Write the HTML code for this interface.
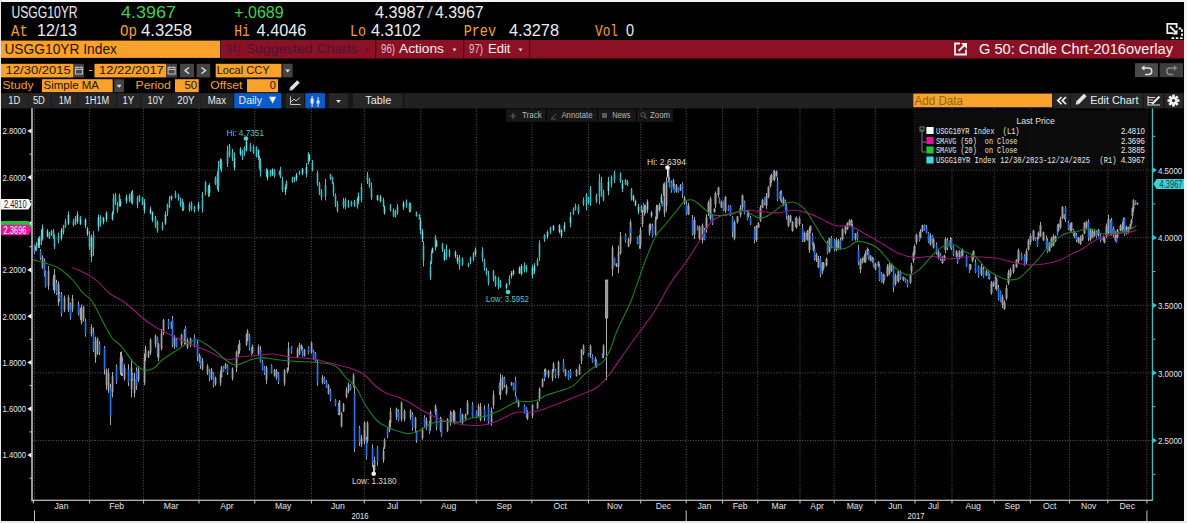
<!DOCTYPE html>
<html><head><meta charset="utf-8"><style>
html,body{margin:0;padding:0;background:#000;width:1187px;height:523px;overflow:hidden}
svg{display:block}
</style></head><body>
<svg width="1187" height="523" viewBox="0 0 1187 523" shape-rendering="auto">
<rect x="0" y="0" width="1187.00" height="523.00" fill="#000" />
<rect x="0" y="0" width="1187.00" height="2.00" fill="#f4f4f4" />
<rect x="0" y="0" width="1.00" height="523.00" fill="#e8e8e8" />
<rect x="1184" y="0" width="3.00" height="523.00" fill="#f4f4f4" />
<rect x="0" y="521" width="1187.00" height="2.00" fill="#e8e8e8" />
<text x="11.40" y="17.70" font-family='"Liberation Sans", sans-serif' font-weight="normal" font-size="16.57" fill="#ececec" textLength="66.12" lengthAdjust="spacingAndGlyphs" style="white-space:pre">USGG10YR</text>
<text x="121.00" y="17.70" font-family='"Liberation Sans", sans-serif' font-weight="normal" font-size="16.57" fill="#3fd24a" textLength="54.98" lengthAdjust="spacingAndGlyphs" style="white-space:pre">4.3967</text>
<text x="234.30" y="17.70" font-family='"Liberation Sans", sans-serif' font-weight="normal" font-size="16.57" fill="#3fd24a" textLength="49.32" lengthAdjust="spacingAndGlyphs" style="white-space:pre">+.0689</text>
<text x="375.00" y="17.70" font-family='"Liberation Sans", sans-serif' font-weight="normal" font-size="16.57" fill="#ececec" textLength="49.48" lengthAdjust="spacingAndGlyphs" style="white-space:pre">4.3987</text>
<text x="427.00" y="17.70" font-family='"Liberation Sans", sans-serif' font-weight="normal" font-size="16.57" fill="#9a9a9a" textLength="5.95" lengthAdjust="spacingAndGlyphs" style="white-space:pre">/</text>
<text x="435.00" y="17.70" font-family='"Liberation Sans", sans-serif' font-weight="normal" font-size="16.57" fill="#ececec" textLength="48.58" lengthAdjust="spacingAndGlyphs" style="white-space:pre">4.3967</text>
<text x="11.00" y="36.20" font-family='"Liberation Mono", monospace' font-weight="normal" font-size="16.67" fill="#f6a02c" textLength="16.80" lengthAdjust="spacingAndGlyphs" style="white-space:pre">At</text>
<text x="37.00" y="36.20" font-family='"Liberation Sans", sans-serif' font-weight="normal" font-size="15.99" fill="#ececec" textLength="39.96" lengthAdjust="spacingAndGlyphs" style="white-space:pre">12/13</text>
<text x="120.00" y="36.20" font-family='"Liberation Mono", monospace' font-weight="normal" font-size="16.67" fill="#f6a02c" textLength="17.00" lengthAdjust="spacingAndGlyphs" style="white-space:pre">Op</text>
<text x="141.00" y="36.20" font-family='"Liberation Sans", sans-serif' font-weight="normal" font-size="15.99" fill="#ececec" textLength="50.98" lengthAdjust="spacingAndGlyphs" style="white-space:pre">4.3258</text>
<text x="234.30" y="36.20" font-family='"Liberation Mono", monospace' font-weight="normal" font-size="16.67" fill="#f6a02c" textLength="15.60" lengthAdjust="spacingAndGlyphs" style="white-space:pre">Hi</text>
<text x="256.60" y="36.20" font-family='"Liberation Sans", sans-serif' font-weight="normal" font-size="15.99" fill="#ececec" textLength="49.78" lengthAdjust="spacingAndGlyphs" style="white-space:pre">4.4046</text>
<text x="350.00" y="36.20" font-family='"Liberation Mono", monospace' font-weight="normal" font-size="16.67" fill="#f6a02c" textLength="16.00" lengthAdjust="spacingAndGlyphs" style="white-space:pre">Lo</text>
<text x="371.00" y="36.20" font-family='"Liberation Sans", sans-serif' font-weight="normal" font-size="15.99" fill="#ececec" textLength="49.68" lengthAdjust="spacingAndGlyphs" style="white-space:pre">4.3102</text>
<text x="463.70" y="36.20" font-family='"Liberation Mono", monospace' font-weight="normal" font-size="16.67" fill="#f6a02c" textLength="32.30" lengthAdjust="spacingAndGlyphs" style="white-space:pre">Prev</text>
<text x="509.00" y="36.20" font-family='"Liberation Sans", sans-serif' font-weight="normal" font-size="15.99" fill="#ececec" textLength="49.98" lengthAdjust="spacingAndGlyphs" style="white-space:pre">4.3278</text>
<text x="595.00" y="36.20" font-family='"Liberation Mono", monospace' font-weight="normal" font-size="16.67" fill="#f6a02c" textLength="23.00" lengthAdjust="spacingAndGlyphs" style="white-space:pre">Vol</text>
<text x="626.00" y="36.20" font-family='"Liberation Sans", sans-serif' font-weight="normal" font-size="15.99" fill="#ececec" textLength="8.02" lengthAdjust="spacingAndGlyphs" style="white-space:pre">0</text>
<g fill="none" stroke="#f0f0f0" stroke-width="1.8"><path d="M1173.5 33.2 H1167.3 V23.8 H1176.6 V28"/><path d="M1170 26.5 L1176 32.5"/><path d="M1171.5 38.2 H1182 V28.5 H1178" stroke-dasharray="2.6 1.6"/></g><path d="M1177.5 29.5 L1177.5 34.5 L1172.5 34.5 Z" fill="#f0f0f0"/>
<rect x="1" y="40.6" width="219.20" height="17.30" fill="#f9a12a" />
<text x="4.40" y="54.30" font-family='"Liberation Sans", sans-serif' font-weight="normal" font-size="15.55" fill="#241500" textLength="112.61" lengthAdjust="spacingAndGlyphs" style="white-space:pre">USGG10YR Index</text>
<rect x="220.9" y="40" width="963.10" height="18.50" fill="#8c1124" />
<rect x="375" y="40" width="1.20" height="18.80" fill="#3a0810" />
<rect x="463" y="40" width="1.20" height="18.80" fill="#3a0810" />
<rect x="529" y="40" width="1.20" height="18.80" fill="#3a0810" />
<text x="226.50" y="53.00" font-family='"Liberation Sans", sans-serif' font-weight="normal" font-size="13.52" fill="#4a1535" textLength="13.50" lengthAdjust="spacingAndGlyphs" style="white-space:pre">94)</text>
<text x="245.80" y="53.00" font-family='"Liberation Sans", sans-serif' font-weight="normal" font-size="13.52" fill="#4a1535" textLength="111.70" lengthAdjust="spacingAndGlyphs" style="white-space:pre">Suggested Charts</text>
<path d="M365 48.5 h4 l-2 3 z" fill="#4a1535"/>
<text x="381.00" y="53.00" font-family='"Liberation Sans", sans-serif' font-weight="normal" font-size="13.52" fill="#d8c0c8" textLength="14.00" lengthAdjust="spacingAndGlyphs" style="white-space:pre">96)</text>
<text x="399.00" y="53.00" font-family='"Liberation Sans", sans-serif' font-weight="normal" font-size="13.52" fill="#f4f4f4" textLength="44.99" lengthAdjust="spacingAndGlyphs" style="white-space:pre">Actions</text>
<path d="M452.5 48.5 h4 l-2 3 z" fill="#e0e0e0"/>
<text x="469.00" y="53.00" font-family='"Liberation Sans", sans-serif' font-weight="normal" font-size="13.52" fill="#d8c0c8" textLength="14.00" lengthAdjust="spacingAndGlyphs" style="white-space:pre">97)</text>
<text x="488.00" y="53.00" font-family='"Liberation Sans", sans-serif' font-weight="normal" font-size="13.52" fill="#f4f4f4" textLength="22.48" lengthAdjust="spacingAndGlyphs" style="white-space:pre">Edit</text>
<path d="M518.5 48.5 h4 l-2 3 z" fill="#e0e0e0"/>
<g fill="none" stroke="#f4f4f4" stroke-width="1.8"><path d="M960 43.5 H955 V54.5 H966 V49.5"/><path d="M958.5 51 L965.5 44"/></g><path d="M961 43 H967 V49 Z" fill="#f4f4f4"/>
<text x="979.00" y="53.70" font-family='"Liberation Sans", sans-serif' font-weight="normal" font-size="14.10" fill="#f4f4f4" textLength="194.00" lengthAdjust="spacingAndGlyphs" style="white-space:pre">G 50: Cndle Chrt-2016overlay</text>
<rect x="1" y="63.8" width="72.50" height="13.60" fill="#f9a12a" />
<text x="5.60" y="74.40" font-family='"Liberation Sans", sans-serif' font-weight="normal" font-size="11.77" fill="#241500" textLength="65.20" lengthAdjust="spacingAndGlyphs" style="white-space:pre">12/30/2015</text>
<rect x="73.8" y="63.8" width="10.20" height="13.60" fill="#454545" />
<rect x="94.5" y="63.8" width="71.80" height="13.60" fill="#f9a12a" />
<text x="99.00" y="74.40" font-family='"Liberation Sans", sans-serif' font-weight="normal" font-size="11.77" fill="#241500" textLength="64.80" lengthAdjust="spacingAndGlyphs" style="white-space:pre">12/22/2017</text>
<rect x="166.3" y="63.8" width="10.70" height="13.60" fill="#454545" />
<g fill="none" stroke="#b8b8b8" stroke-width="1.1"><rect x="75.5" y="67.5" width="7" height="6.5"/><path d="M75.5 69.5 h7"/><path d="M77 66.2 v2 M81 66.2 v2"/></g>
<g fill="none" stroke="#b8b8b8" stroke-width="1.1"><rect x="168.1" y="67.5" width="7" height="6.5"/><path d="M168.1 69.5 h7"/><path d="M169.6 66.2 v2 M173.6 66.2 v2"/></g>
<rect x="89" y="70" width="3.50" height="1.00" fill="#f9a12a" />
<rect x="180" y="63.8" width="14.00" height="13.60" fill="#454545" />
<rect x="196.6" y="63.8" width="13.60" height="13.60" fill="#454545" />
<path d="M189 67.5 L185 70.6 L189 73.7" fill="none" stroke="#e8e8f0" stroke-width="1.3"/>
<path d="M201.5 67.5 L205.5 70.6 L201.5 73.7" fill="none" stroke="#e8e8f0" stroke-width="1.3"/>
<rect x="215.7" y="63.8" width="65.80" height="13.60" fill="#f9a12a" />
<text x="216.70" y="74.40" font-family='"Liberation Sans", sans-serif' font-weight="normal" font-size="11.77" fill="#241500" textLength="53.10" lengthAdjust="spacingAndGlyphs" style="white-space:pre">Local CCY</text>
<rect x="282.5" y="63.8" width="10.10" height="13.60" fill="#454545" />
<path d="M285.2 69.5 h5 l-2.5 3 z" fill="#e0e0e0"/>
<text x="2.50" y="88.80" font-family='"Liberation Sans", sans-serif' font-weight="normal" font-size="11.34" fill="#f6a02c" textLength="30.93" lengthAdjust="spacingAndGlyphs" style="white-space:pre">Study</text>
<rect x="42" y="79.2" width="70.70" height="13.00" fill="#f9a12a" />
<text x="43.50" y="88.80" font-family='"Liberation Sans", sans-serif' font-weight="normal" font-size="11.34" fill="#241500" textLength="55.44" lengthAdjust="spacingAndGlyphs" style="white-space:pre">Simple MA</text>
<rect x="114.3" y="79.2" width="9.60" height="13.00" fill="#454545" />
<path d="M116.6 84.8 h5 l-2.5 3 z" fill="#e0e0e0"/>
<text x="135.50" y="89.00" font-family='"Liberation Sans", sans-serif' font-weight="normal" font-size="11.34" fill="#f6a02c" textLength="35.41" lengthAdjust="spacingAndGlyphs" style="white-space:pre">Period</text>
<rect x="175" y="79.2" width="23.70" height="13.00" fill="#f9a12a" />
<text x="184.50" y="89.00" font-family='"Liberation Sans", sans-serif' font-weight="normal" font-size="11.34" fill="#241500" textLength="12.73" lengthAdjust="spacingAndGlyphs" style="white-space:pre">50</text>
<text x="210.20" y="89.00" font-family='"Liberation Sans", sans-serif' font-weight="normal" font-size="11.34" fill="#f6a02c" textLength="32.29" lengthAdjust="spacingAndGlyphs" style="white-space:pre">Offset</text>
<rect x="247" y="79.2" width="31.00" height="13.00" fill="#f9a12a" />
<text x="269.80" y="89.00" font-family='"Liberation Sans", sans-serif' font-weight="normal" font-size="11.34" fill="#241500" textLength="6.11" lengthAdjust="spacingAndGlyphs" style="white-space:pre">0</text>
<g transform="translate(289.5,90.5) rotate(-45)"><rect x="2.2" y="-1.8" width="10.5" height="3.6" fill="#e4e4e4"/><path d="M0 0 L2.2 -1.8 V1.8 Z" fill="#e4e4e4"/></g>
<rect x="1" y="93.2" width="1183.00" height="15.10" fill="#161616" />
<rect x="1" y="93.2" width="27.40" height="15.10" fill="#262626" />
<rect x="28.9" y="93.2" width="22.30" height="15.10" fill="#262626" />
<rect x="51.7" y="93.2" width="26.00" height="15.10" fill="#262626" />
<rect x="78.2" y="93.2" width="38.10" height="15.10" fill="#262626" />
<rect x="116.8" y="93.2" width="23.50" height="15.10" fill="#262626" />
<rect x="140.8" y="93.2" width="30.20" height="15.10" fill="#262626" />
<rect x="171.5" y="93.2" width="28.50" height="15.10" fill="#262626" />
<rect x="200.5" y="93.2" width="32.50" height="15.10" fill="#262626" />
<rect x="234.2" y="93.2" width="47.10" height="15.10" fill="#0a5ccc" />
<rect x="285.7" y="93.2" width="18.30" height="15.10" fill="#262626" />
<rect x="305.3" y="93.2" width="19.60" height="15.10" fill="#0a5ccc" />
<rect x="328.7" y="93.2" width="19.50" height="15.10" fill="#262626" />
<rect x="352.7" y="93.2" width="49.90" height="15.10" fill="#262626" />
<rect x="404.5" y="93.2" width="508.80" height="15.10" fill="#23211f" />
<text x="8.20" y="103.90" font-family='"Liberation Sans", sans-serif' font-weight="normal" font-size="11.05" fill="#ececec" textLength="11.98" lengthAdjust="spacingAndGlyphs" style="white-space:pre">1D</text>
<text x="32.90" y="103.90" font-family='"Liberation Sans", sans-serif' font-weight="normal" font-size="11.05" fill="#ececec" textLength="11.98" lengthAdjust="spacingAndGlyphs" style="white-space:pre">5D</text>
<text x="58.80" y="103.90" font-family='"Liberation Sans", sans-serif' font-weight="normal" font-size="11.05" fill="#ececec" textLength="12.59" lengthAdjust="spacingAndGlyphs" style="white-space:pre">1M</text>
<text x="84.70" y="103.90" font-family='"Liberation Sans", sans-serif' font-weight="normal" font-size="11.05" fill="#ececec" textLength="24.58" lengthAdjust="spacingAndGlyphs" style="white-space:pre">1H1M</text>
<text x="122.60" y="103.90" font-family='"Liberation Sans", sans-serif' font-weight="normal" font-size="11.05" fill="#ececec" textLength="11.38" lengthAdjust="spacingAndGlyphs" style="white-space:pre">1Y</text>
<text x="147.60" y="103.90" font-family='"Liberation Sans", sans-serif' font-weight="normal" font-size="11.05" fill="#ececec" textLength="16.39" lengthAdjust="spacingAndGlyphs" style="white-space:pre">10Y</text>
<text x="177.30" y="103.90" font-family='"Liberation Sans", sans-serif' font-weight="normal" font-size="11.05" fill="#ececec" textLength="17.09" lengthAdjust="spacingAndGlyphs" style="white-space:pre">20Y</text>
<text x="207.70" y="103.90" font-family='"Liberation Sans", sans-serif' font-weight="normal" font-size="11.05" fill="#ececec" textLength="18.29" lengthAdjust="spacingAndGlyphs" style="white-space:pre">Max</text>
<text x="238.60" y="103.90" font-family='"Liberation Sans", sans-serif' font-weight="normal" font-size="11.05" fill="#ececec" textLength="23.38" lengthAdjust="spacingAndGlyphs" style="white-space:pre">Daily</text>
<path d="M269 96.8 h7.2 l-3.6 6.8 z" fill="#f4f4f4"/>
<g fill="none" stroke="#c8c8c8" stroke-width="1"><path d="M290.5 96.5 V104.5 H300.5"/><path d="M291 102 L294 99 L296 101 L300 97.5"/></g>
<g fill="#e8e8e8"><rect x="311.6" y="96" width="1" height="11"/><rect x="310.6" y="98.5" width="3" height="5"/><rect x="317.6" y="97" width="1" height="10"/><rect x="316.6" y="100.5" width="3" height="3"/></g>
<path d="M336 100 h5 l-2.5 3 z" fill="#e0e0e0"/>
<text x="365.30" y="103.90" font-family='"Liberation Sans", sans-serif' font-weight="normal" font-size="11.05" fill="#ececec" textLength="25.91" lengthAdjust="spacingAndGlyphs" style="white-space:pre">Table</text>
<rect x="913.3" y="93.6" width="138.80" height="13.60" fill="#f9a12a" />
<text x="914.50" y="104.50" font-family='"Liberation Sans", sans-serif' font-weight="normal" font-size="11.92" fill="#8a6a18" textLength="48.44" lengthAdjust="spacingAndGlyphs" style="white-space:pre">Add Data</text>
<rect x="1053.4" y="93.2" width="16.30" height="15.10" fill="#262626" />
<rect x="1071" y="93.2" width="71.80" height="15.10" fill="#262626" />
<rect x="1144" y="93.2" width="19.20" height="15.10" fill="#262626" />
<rect x="1164.5" y="93.2" width="18.50" height="15.10" fill="#262626" />
<path d="M1061.5 97 L1057.8 100.6 L1061.5 104.2 M1066 97 L1062.3 100.6 L1066 104.2" fill="none" stroke="#f0f0f0" stroke-width="1.7"/>
<g transform="translate(1075.8,104.5) rotate(-45)"><rect x="2.4" y="-1.9" width="11" height="3.8" fill="#e4e4e4"/><path d="M0 0 L2.4 -1.9 V1.9 Z" fill="#e4e4e4"/></g>
<text x="1090.20" y="104.10" font-family='"Liberation Sans", sans-serif' font-weight="normal" font-size="11.63" fill="#ececec" textLength="48.32" lengthAdjust="spacingAndGlyphs" style="white-space:pre">Edit Chart</text>
<g fill="none" stroke="#d8d8d8" stroke-width="1.1"><path d="M1148 97.5 h7 M1148 100 h5 M1148 102.5 h4 M1148 96 v9 h12"/></g><path d="M1152 104 L1159.5 96.5" stroke="#f0f0f0" stroke-width="2"/>
<g fill="#f0f0f0"><rect x="1172.2" y="94.6" width="2.6" height="3" transform="rotate(0 1173.5 100.6)"/><rect x="1172.2" y="94.6" width="2.6" height="3" transform="rotate(45 1173.5 100.6)"/><rect x="1172.2" y="94.6" width="2.6" height="3" transform="rotate(90 1173.5 100.6)"/><rect x="1172.2" y="94.6" width="2.6" height="3" transform="rotate(135 1173.5 100.6)"/><rect x="1172.2" y="94.6" width="2.6" height="3" transform="rotate(180 1173.5 100.6)"/><rect x="1172.2" y="94.6" width="2.6" height="3" transform="rotate(225 1173.5 100.6)"/><rect x="1172.2" y="94.6" width="2.6" height="3" transform="rotate(270 1173.5 100.6)"/><rect x="1172.2" y="94.6" width="2.6" height="3" transform="rotate(315 1173.5 100.6)"/><circle cx="1173.5" cy="100.6" r="4"/></g><circle cx="1173.5" cy="100.6" r="1.6" fill="#262626"/>
<rect x="1135" y="63.2" width="23.00" height="13.90" fill="#4a4a4a" />
<rect x="1159.6" y="63.2" width="23.40" height="13.90" fill="#3e3e3e" />
<path d="M1143.5 68 h5 a3.2 3.2 0 0 1 0 6.4 h-3.5" fill="none" stroke="#e0e0e0" stroke-width="1.5"/><path d="M1141.2 68 L1144.5 65.2 V70.8 Z" fill="#e0e0e0"/>
<path d="M1175 68 h-5 a3.2 3.2 0 0 0 0 6.4 h3.5" fill="none" stroke="#888" stroke-width="1.5"/><path d="M1177.3 68 L1174 65.2 V70.8 Z" fill="#888"/>
<line x1="89.6" y1="108.3" x2="89.6" y2="500.3" stroke="#625660" stroke-width="1" stroke-dasharray="1 1.6"/>
<line x1="143.6" y1="108.3" x2="143.6" y2="500.3" stroke="#625660" stroke-width="1" stroke-dasharray="1 1.6"/>
<line x1="199.0" y1="108.3" x2="199.0" y2="500.3" stroke="#625660" stroke-width="1" stroke-dasharray="1 1.6"/>
<line x1="254.8" y1="108.3" x2="254.8" y2="500.3" stroke="#625660" stroke-width="1" stroke-dasharray="1 1.6"/>
<line x1="311.4" y1="108.3" x2="311.4" y2="500.3" stroke="#625660" stroke-width="1" stroke-dasharray="1 1.6"/>
<line x1="364.3" y1="108.3" x2="364.3" y2="500.3" stroke="#625660" stroke-width="1" stroke-dasharray="1 1.6"/>
<line x1="420.9" y1="108.3" x2="420.9" y2="500.3" stroke="#625660" stroke-width="1" stroke-dasharray="1 1.6"/>
<line x1="476.3" y1="108.3" x2="476.3" y2="500.3" stroke="#625660" stroke-width="1" stroke-dasharray="1 1.6"/>
<line x1="531.9" y1="108.3" x2="531.9" y2="500.3" stroke="#625660" stroke-width="1" stroke-dasharray="1 1.6"/>
<line x1="588.5" y1="108.3" x2="588.5" y2="500.3" stroke="#625660" stroke-width="1" stroke-dasharray="1 1.6"/>
<line x1="640.7" y1="108.3" x2="640.7" y2="500.3" stroke="#625660" stroke-width="1" stroke-dasharray="1 1.6"/>
<line x1="686.2" y1="108.3" x2="686.2" y2="500.3" stroke="#625660" stroke-width="1" stroke-dasharray="1 1.6"/>
<line x1="722.6" y1="108.3" x2="722.6" y2="500.3" stroke="#625660" stroke-width="1" stroke-dasharray="1 1.6"/>
<line x1="757.7" y1="108.3" x2="757.7" y2="500.3" stroke="#625660" stroke-width="1" stroke-dasharray="1 1.6"/>
<line x1="800.0" y1="108.3" x2="800.0" y2="500.3" stroke="#625660" stroke-width="1" stroke-dasharray="1 1.6"/>
<line x1="834.2" y1="108.3" x2="834.2" y2="500.3" stroke="#625660" stroke-width="1" stroke-dasharray="1 1.6"/>
<line x1="875.3" y1="108.3" x2="875.3" y2="500.3" stroke="#625660" stroke-width="1" stroke-dasharray="1 1.6"/>
<line x1="915.0" y1="108.3" x2="915.0" y2="500.3" stroke="#625660" stroke-width="1" stroke-dasharray="1 1.6"/>
<line x1="952.0" y1="108.3" x2="952.0" y2="500.3" stroke="#625660" stroke-width="1" stroke-dasharray="1 1.6"/>
<line x1="994.2" y1="108.3" x2="994.2" y2="500.3" stroke="#625660" stroke-width="1" stroke-dasharray="1 1.6"/>
<line x1="1030.3" y1="108.3" x2="1030.3" y2="500.3" stroke="#625660" stroke-width="1" stroke-dasharray="1 1.6"/>
<line x1="1069.4" y1="108.3" x2="1069.4" y2="500.3" stroke="#625660" stroke-width="1" stroke-dasharray="1 1.6"/>
<line x1="1107.8" y1="108.3" x2="1107.8" y2="500.3" stroke="#625660" stroke-width="1" stroke-dasharray="1 1.6"/>
<line x1="1146.9" y1="108.3" x2="1146.9" y2="500.3" stroke="#625660" stroke-width="1" stroke-dasharray="1 1.6"/>
<line x1="34.5" y1="108.3" x2="34.5" y2="500.3" stroke="#625660" stroke-width="1" stroke-dasharray="1 1.6"/>
<line x1="32.5" y1="170.1" x2="1152.4" y2="170.1" stroke="#625660" stroke-width="1" stroke-dasharray="1 1.6"/>
<line x1="32.5" y1="237.7" x2="1152.4" y2="237.7" stroke="#625660" stroke-width="1" stroke-dasharray="1 1.6"/>
<line x1="32.5" y1="305.3" x2="1152.4" y2="305.3" stroke="#625660" stroke-width="1" stroke-dasharray="1 1.6"/>
<line x1="32.5" y1="372.9" x2="1152.4" y2="372.9" stroke="#625660" stroke-width="1" stroke-dasharray="1 1.6"/>
<line x1="32.5" y1="440.5" x2="1152.4" y2="440.5" stroke="#625660" stroke-width="1" stroke-dasharray="1 1.6"/>
<rect x="915.5" y="110" width="231.50" height="58.50" fill="rgba(12,12,12,0.9)" /><text x="1016.40" y="123.60" font-family='"Liberation Sans", sans-serif' font-weight="normal" font-size="8.72" fill="#e0e0e0" textLength="38.51" lengthAdjust="spacingAndGlyphs" style="white-space:pre">Last Price</text><rect x="926.4" y="127.0" width="7.20" height="7.00" fill="#ffffff" /><text x="936.00" y="133.50" font-family='"Liberation Mono", monospace' font-weight="normal" font-size="8.79" fill="#e8e8e8" textLength="83.51" lengthAdjust="spacingAndGlyphs" style="white-space:pre">USGG10YR Index  (L1)</text><text x="1121.00" y="133.50" font-family='"Liberation Sans", sans-serif' font-weight="normal" font-size="8.43" fill="#e8e8e8" textLength="23.79" lengthAdjust="spacingAndGlyphs" style="white-space:pre">2.4810</text><rect x="926.4" y="137.0" width="7.20" height="7.00" fill="#e5129b" /><text x="936.00" y="143.50" font-family='"Liberation Mono", monospace' font-weight="normal" font-size="8.79" fill="#e8e8e8" textLength="81.41" lengthAdjust="spacingAndGlyphs" style="white-space:pre">SMAVG (50)  on Close</text><text x="1121.00" y="143.50" font-family='"Liberation Sans", sans-serif' font-weight="normal" font-size="8.43" fill="#e8e8e8" textLength="23.79" lengthAdjust="spacingAndGlyphs" style="white-space:pre">2.3696</text><rect x="926.4" y="146.5" width="7.20" height="7.00" fill="#22c43a" /><text x="936.00" y="153.00" font-family='"Liberation Mono", monospace' font-weight="normal" font-size="8.79" fill="#e8e8e8" textLength="81.41" lengthAdjust="spacingAndGlyphs" style="white-space:pre">SMAVG (20)  on Close</text><text x="1121.00" y="153.00" font-family='"Liberation Sans", sans-serif' font-weight="normal" font-size="8.43" fill="#e8e8e8" textLength="23.79" lengthAdjust="spacingAndGlyphs" style="white-space:pre">2.3885</text><rect x="926.4" y="156.5" width="7.20" height="7.00" fill="#40d8e0" /><text x="936.00" y="163.00" font-family='"Liberation Mono", monospace' font-weight="normal" font-size="8.79" fill="#e8e8e8" textLength="153.98" lengthAdjust="spacingAndGlyphs" style="white-space:pre">USGG10YR Index 12/30/2023-12/24/2025</text><text x="1121.00" y="163.00" font-family='"Liberation Sans", sans-serif' font-weight="normal" font-size="8.43" fill="#e8e8e8" textLength="23.79" lengthAdjust="spacingAndGlyphs" style="white-space:pre">4.3967</text><text x="1099.60" y="163.00" font-family='"Liberation Mono", monospace' font-weight="normal" font-size="8.79" fill="#e8e8e8" textLength="16.90" lengthAdjust="spacingAndGlyphs" style="white-space:pre">(R1)</text><path d="M922 129 V152 H926" fill="none" stroke="#909090" stroke-width="0.8"/><path d="M922 142 H926" stroke="#909090" stroke-width="0.8"/><rect x="920" y="127" width="4" height="4" fill="none" stroke="#909090" stroke-width="0.8"/>
<g><rect x="36" y="242.0" width="1" height="9.0" fill="#45c4c8"/>
<rect x="35.7" y="243.8" width="1.6" height="5.1" fill="#3cbcc0"/>
<rect x="38" y="237.4" width="1" height="10.6" fill="#45c4c8"/>
<rect x="37.7" y="238.7" width="1.6" height="7.6" fill="#74dcdc"/>
<rect x="39" y="236.0" width="1" height="12.0" fill="#45c4c8"/>
<rect x="38.7" y="239.1" width="1.6" height="6.0" fill="#74dcdc"/>
<rect x="41" y="229.8" width="1" height="15.2" fill="#45c4c8"/>
<rect x="40.7" y="234.3" width="1.6" height="6.2" fill="#3cbcc0"/>
<rect x="42" y="224.4" width="1" height="16.1" fill="#45c4c8"/>
<rect x="41.7" y="228.0" width="1.6" height="10.4" fill="#74dcdc"/>
<rect x="47" y="229.0" width="1" height="8.4" fill="#45c4c8"/>
<rect x="46.7" y="230.7" width="1.6" height="5.7" fill="#74dcdc"/>
<rect x="49" y="232.0" width="1" height="7.0" fill="#45c4c8"/>
<rect x="48.7" y="233.0" width="1.6" height="5.2" fill="#3cbcc0"/>
<rect x="51" y="229.8" width="1" height="6.2" fill="#45c4c8"/>
<rect x="50.7" y="231.0" width="1.6" height="3.4" fill="#3cbcc0"/>
<rect x="53" y="229.0" width="1" height="10.0" fill="#45c4c8"/>
<rect x="52.7" y="231.3" width="1.6" height="5.7" fill="#3cbcc0"/>
<rect x="54" y="234.4" width="1" height="14.6" fill="#45c4c8"/>
<rect x="53.7" y="237.2" width="1.6" height="9.5" fill="#3cbcc0"/>
<rect x="58" y="232.6" width="1" height="10.8" fill="#45c4c8"/>
<rect x="57.7" y="235.8" width="1.6" height="4.7" fill="#3cbcc0"/>
<rect x="61" y="228.0" width="1" height="12.5" fill="#45c4c8"/>
<rect x="60.7" y="230.0" width="1.6" height="8.6" fill="#74dcdc"/>
<rect x="63" y="225.0" width="1" height="9.4" fill="#45c4c8"/>
<rect x="62.7" y="226.1" width="1.6" height="5.9" fill="#3cbcc0"/>
<rect x="65" y="219.0" width="1" height="9.0" fill="#45c4c8"/>
<rect x="64.7" y="221.4" width="1.6" height="5.0" fill="#3cbcc0"/>
<rect x="68" y="211.4" width="1" height="13.6" fill="#45c4c8"/>
<rect x="67.7" y="215.1" width="1.6" height="8.6" fill="#74dcdc"/>
<rect x="73" y="219.0" width="1" height="7.7" fill="#45c4c8"/>
<rect x="72.7" y="221.2" width="1.6" height="4.0" fill="#3cbcc0"/>
<rect x="75" y="216.0" width="1" height="9.0" fill="#45c4c8"/>
<rect x="74.7" y="217.6" width="1.6" height="6.4" fill="#3cbcc0"/>
<rect x="77" y="211.4" width="1" height="12.3" fill="#45c4c8"/>
<rect x="76.7" y="214.5" width="1.6" height="7.3" fill="#74dcdc"/>
<rect x="80" y="216.0" width="1" height="6.0" fill="#45c4c8"/>
<rect x="79.7" y="217.0" width="1.6" height="3.2" fill="#3cbcc0"/>
<rect x="80" y="219.0" width="1" height="6.0" fill="#45c4c8"/>
<rect x="79.7" y="219.7" width="1.6" height="4.4" fill="#74dcdc"/>
<rect x="85" y="218.3" width="1" height="9.9" fill="#45c4c8"/>
<rect x="84.7" y="219.4" width="1.6" height="6.2" fill="#74dcdc"/>
<rect x="87" y="226.7" width="1" height="9.3" fill="#45c4c8"/>
<rect x="86.7" y="228.7" width="1.6" height="5.6" fill="#74dcdc"/>
<rect x="89" y="231.3" width="1" height="18.4" fill="#45c4c8"/>
<rect x="88.7" y="235.8" width="1.6" height="11.5" fill="#3cbcc0"/>
<rect x="91" y="234.4" width="1" height="27.6" fill="#45c4c8"/>
<rect x="90.7" y="237.8" width="1.6" height="19.1" fill="#74dcdc"/>
<rect x="93" y="231.3" width="1" height="24.5" fill="#45c4c8"/>
<rect x="92.7" y="235.1" width="1.6" height="13.5" fill="#3cbcc0"/>
<rect x="98" y="214.5" width="1" height="16.8" fill="#45c4c8"/>
<rect x="97.7" y="217.2" width="1.6" height="9.4" fill="#74dcdc"/>
<rect x="100" y="215.2" width="1" height="11.5" fill="#45c4c8"/>
<rect x="99.7" y="217.3" width="1.6" height="6.3" fill="#3cbcc0"/>
<rect x="103" y="216.8" width="1" height="7.6" fill="#45c4c8"/>
<rect x="102.7" y="217.7" width="1.6" height="4.4" fill="#74dcdc"/>
<rect x="106" y="211.4" width="1" height="10.6" fill="#45c4c8"/>
<rect x="105.7" y="213.0" width="1.6" height="6.3" fill="#74dcdc"/>
<rect x="112" y="211.3" width="1" height="9.2" fill="#45c4c8"/>
<rect x="111.7" y="212.8" width="1.6" height="6.7" fill="#74dcdc"/>
<rect x="113" y="193.7" width="1" height="20.7" fill="#45c4c8"/>
<rect x="112.7" y="198.2" width="1.6" height="13.1" fill="#3cbcc0"/>
<rect x="115" y="193.0" width="1" height="12.2" fill="#45c4c8"/>
<rect x="114.7" y="195.1" width="1.6" height="7.7" fill="#3cbcc0"/>
<rect x="117" y="202.0" width="1" height="10.8" fill="#45c4c8"/>
<rect x="116.7" y="204.1" width="1.6" height="6.4" fill="#3cbcc0"/>
<rect x="119" y="193.7" width="1" height="13.0" fill="#45c4c8"/>
<rect x="118.7" y="195.5" width="1.6" height="9.5" fill="#3cbcc0"/>
<rect x="120" y="199.0" width="1" height="7.7" fill="#45c4c8"/>
<rect x="119.7" y="201.0" width="1.6" height="4.5" fill="#74dcdc"/>
<rect x="126" y="194.5" width="1" height="9.2" fill="#45c4c8"/>
<rect x="125.7" y="196.8" width="1.6" height="4.3" fill="#74dcdc"/>
<rect x="129" y="193.7" width="1" height="8.3" fill="#45c4c8"/>
<rect x="128.7" y="196.1" width="1.6" height="3.6" fill="#3cbcc0"/>
<rect x="131" y="191.4" width="1" height="12.3" fill="#45c4c8"/>
<rect x="130.7" y="193.7" width="1.6" height="8.5" fill="#74dcdc"/>
<rect x="132" y="190.0" width="1" height="14.4" fill="#45c4c8"/>
<rect x="131.7" y="194.2" width="1.6" height="8.1" fill="#3cbcc0"/>
<rect x="137" y="196.0" width="1" height="12.2" fill="#45c4c8"/>
<rect x="136.7" y="197.8" width="1.6" height="7.1" fill="#3cbcc0"/>
<rect x="139" y="194.5" width="1" height="7.5" fill="#45c4c8"/>
<rect x="138.7" y="195.7" width="1.6" height="5.3" fill="#3cbcc0"/>
<rect x="142" y="196.8" width="1" height="8.4" fill="#45c4c8"/>
<rect x="141.7" y="197.8" width="1.6" height="6.2" fill="#3cbcc0"/>
<rect x="144" y="199.0" width="1" height="14.6" fill="#45c4c8"/>
<rect x="143.7" y="202.9" width="1.6" height="7.4" fill="#74dcdc"/>
<rect x="150" y="206.7" width="1" height="7.7" fill="#45c4c8"/>
<rect x="149.7" y="208.9" width="1.6" height="4.4" fill="#74dcdc"/>
<rect x="152" y="211.3" width="1" height="10.7" fill="#45c4c8"/>
<rect x="151.7" y="212.9" width="1.6" height="7.0" fill="#74dcdc"/>
<rect x="155" y="215.9" width="1" height="12.1" fill="#45c4c8"/>
<rect x="154.7" y="217.5" width="1.6" height="8.4" fill="#3cbcc0"/>
<rect x="157" y="220.5" width="1" height="12.2" fill="#45c4c8"/>
<rect x="156.7" y="222.0" width="1.6" height="8.6" fill="#3cbcc0"/>
<rect x="162" y="222.0" width="1" height="8.4" fill="#45c4c8"/>
<rect x="161.7" y="224.5" width="1.6" height="4.0" fill="#3cbcc0"/>
<rect x="165" y="211.3" width="1" height="13.7" fill="#45c4c8"/>
<rect x="164.7" y="214.3" width="1.6" height="9.0" fill="#74dcdc"/>
<rect x="167" y="203.7" width="1" height="12.2" fill="#45c4c8"/>
<rect x="166.7" y="205.0" width="1.6" height="7.5" fill="#3cbcc0"/>
<rect x="169" y="196.0" width="1" height="12.2" fill="#45c4c8"/>
<rect x="168.7" y="199.6" width="1.6" height="7.4" fill="#3cbcc0"/>
<rect x="171" y="195.2" width="1" height="5.4" fill="#45c4c8"/>
<rect x="170.7" y="196.3" width="1.6" height="3.0" fill="#74dcdc"/>
<rect x="175" y="190.7" width="1" height="7.6" fill="#45c4c8"/>
<rect x="174.7" y="193.0" width="1.6" height="4.4" fill="#3cbcc0"/>
<rect x="178" y="193.7" width="1" height="6.9" fill="#45c4c8"/>
<rect x="177.7" y="195.4" width="1.6" height="3.3" fill="#3cbcc0"/>
<rect x="180" y="197.5" width="1" height="9.2" fill="#45c4c8"/>
<rect x="179.7" y="199.7" width="1.6" height="4.6" fill="#3cbcc0"/>
<rect x="182" y="198.8" width="1" height="12.1" fill="#45c4c8"/>
<rect x="181.7" y="200.9" width="1.6" height="7.2" fill="#3cbcc0"/>
<rect x="183" y="202.3" width="1" height="8.6" fill="#45c4c8"/>
<rect x="182.7" y="204.7" width="1.6" height="4.7" fill="#3cbcc0"/>
<rect x="189" y="202.3" width="1" height="9.4" fill="#45c4c8"/>
<rect x="188.7" y="204.9" width="1.6" height="4.8" fill="#3cbcc0"/>
<rect x="191" y="201.4" width="1" height="9.5" fill="#45c4c8"/>
<rect x="190.7" y="203.1" width="1.6" height="5.8" fill="#3cbcc0"/>
<rect x="194" y="205.7" width="1" height="6.9" fill="#45c4c8"/>
<rect x="193.7" y="206.5" width="1.6" height="4.5" fill="#3cbcc0"/>
<rect x="198" y="201.8" width="1" height="9.6" fill="#45c4c8"/>
<rect x="197.7" y="204.4" width="1.6" height="4.6" fill="#74dcdc"/>
<rect x="202" y="195.4" width="1" height="17.2" fill="#45c4c8"/>
<rect x="201.7" y="199.6" width="1.6" height="9.2" fill="#3cbcc0"/>
<rect x="202" y="192.0" width="1" height="6.8" fill="#45c4c8"/>
<rect x="201.7" y="193.8" width="1.6" height="4.2" fill="#3cbcc0"/>
<rect x="205" y="180.8" width="1" height="14.6" fill="#45c4c8"/>
<rect x="204.7" y="182.3" width="1.6" height="9.8" fill="#3cbcc0"/>
<rect x="208" y="185.0" width="1" height="12.0" fill="#45c4c8"/>
<rect x="207.7" y="186.8" width="1.6" height="7.4" fill="#3cbcc0"/>
<rect x="209" y="183.3" width="1" height="12.9" fill="#45c4c8"/>
<rect x="208.7" y="186.2" width="1.6" height="6.4" fill="#74dcdc"/>
<rect x="215" y="176.5" width="1" height="8.5" fill="#45c4c8"/>
<rect x="214.7" y="177.4" width="1.6" height="6.3" fill="#3cbcc0"/>
<rect x="217" y="171.3" width="1" height="18.9" fill="#45c4c8"/>
<rect x="216.7" y="174.0" width="1.6" height="13.7" fill="#3cbcc0"/>
<rect x="218" y="161.0" width="1" height="31.0" fill="#45c4c8"/>
<rect x="217.7" y="168.2" width="1.6" height="18.0" fill="#3cbcc0"/>
<rect x="220" y="158.4" width="1" height="11.2" fill="#45c4c8"/>
<rect x="219.7" y="160.3" width="1.6" height="6.7" fill="#74dcdc"/>
<rect x="221" y="159.2" width="1" height="13.0" fill="#45c4c8"/>
<rect x="220.7" y="161.6" width="1.6" height="7.2" fill="#3cbcc0"/>
<rect x="227" y="145.5" width="1" height="21.5" fill="#45c4c8"/>
<rect x="226.7" y="151.4" width="1.6" height="11.8" fill="#3cbcc0"/>
<rect x="229" y="143.8" width="1" height="13.7" fill="#45c4c8"/>
<rect x="228.7" y="146.0" width="1.6" height="9.7" fill="#3cbcc0"/>
<rect x="232" y="149.0" width="1" height="12.0" fill="#45c4c8"/>
<rect x="231.7" y="152.2" width="1.6" height="5.6" fill="#3cbcc0"/>
<rect x="234" y="152.4" width="1" height="18.0" fill="#45c4c8"/>
<rect x="233.7" y="157.6" width="1.6" height="10.0" fill="#74dcdc"/>
<rect x="240" y="147.2" width="1" height="8.6" fill="#45c4c8"/>
<rect x="239.7" y="148.8" width="1.6" height="5.6" fill="#74dcdc"/>
<rect x="242" y="149.8" width="1" height="10.2" fill="#45c4c8"/>
<rect x="241.7" y="151.7" width="1.6" height="6.0" fill="#3cbcc0"/>
<rect x="244" y="146.3" width="1" height="9.5" fill="#45c4c8"/>
<rect x="243.7" y="147.8" width="1.6" height="5.4" fill="#3cbcc0"/>
<rect x="246" y="139.5" width="1" height="12.0" fill="#45c4c8"/>
<rect x="245.7" y="141.8" width="1.6" height="8.3" fill="#74dcdc"/>
<rect x="250" y="143.1" width="1" height="8.6" fill="#45c4c8"/>
<rect x="249.7" y="145.5" width="1.6" height="5.3" fill="#3cbcc0"/>
<rect x="253" y="144.6" width="1" height="9.4" fill="#45c4c8"/>
<rect x="252.7" y="146.6" width="1.6" height="5.9" fill="#3cbcc0"/>
<rect x="256" y="146.3" width="1" height="11.2" fill="#45c4c8"/>
<rect x="255.7" y="147.5" width="1.6" height="8.6" fill="#3cbcc0"/>
<rect x="258" y="149.2" width="1" height="10.7" fill="#45c4c8"/>
<rect x="257.7" y="150.3" width="1.6" height="6.7" fill="#74dcdc"/>
<rect x="259" y="155.8" width="1" height="13.8" fill="#45c4c8"/>
<rect x="258.7" y="157.6" width="1.6" height="10.5" fill="#3cbcc0"/>
<rect x="260" y="158.4" width="1" height="18.3" fill="#45c4c8"/>
<rect x="259.7" y="161.9" width="1.6" height="10.7" fill="#3cbcc0"/>
<rect x="266" y="168.3" width="1" height="8.4" fill="#45c4c8"/>
<rect x="265.7" y="170.5" width="1.6" height="3.8" fill="#3cbcc0"/>
<rect x="267" y="169.0" width="1" height="11.5" fill="#45c4c8"/>
<rect x="266.7" y="170.6" width="1.6" height="7.6" fill="#74dcdc"/>
<rect x="270" y="169.8" width="1" height="6.9" fill="#45c4c8"/>
<rect x="269.7" y="170.5" width="1.6" height="4.9" fill="#3cbcc0"/>
<rect x="272" y="168.3" width="1" height="7.7" fill="#45c4c8"/>
<rect x="271.7" y="169.3" width="1.6" height="5.5" fill="#74dcdc"/>
<rect x="274" y="169.0" width="1" height="8.5" fill="#45c4c8"/>
<rect x="273.7" y="171.0" width="1.6" height="4.7" fill="#3cbcc0"/>
<rect x="279" y="170.6" width="1" height="4.6" fill="#45c4c8"/>
<rect x="278.7" y="171.8" width="1.6" height="2.6" fill="#3cbcc0"/>
<rect x="280" y="166.8" width="1" height="11.4" fill="#45c4c8"/>
<rect x="279.7" y="170.0" width="1.6" height="6.9" fill="#3cbcc0"/>
<rect x="282" y="176.7" width="1" height="15.3" fill="#45c4c8"/>
<rect x="281.7" y="180.4" width="1.6" height="9.6" fill="#3cbcc0"/>
<rect x="285" y="184.4" width="1" height="10.6" fill="#45c4c8"/>
<rect x="284.7" y="186.8" width="1.6" height="5.2" fill="#74dcdc"/>
<rect x="286" y="180.5" width="1" height="8.5" fill="#45c4c8"/>
<rect x="285.7" y="182.3" width="1.6" height="4.3" fill="#3cbcc0"/>
<rect x="292" y="176.7" width="1" height="6.1" fill="#45c4c8"/>
<rect x="291.7" y="178.5" width="1.6" height="3.2" fill="#3cbcc0"/>
<rect x="294" y="176.7" width="1" height="5.3" fill="#45c4c8"/>
<rect x="293.7" y="177.4" width="1.6" height="3.3" fill="#3cbcc0"/>
<rect x="296" y="172.9" width="1" height="8.4" fill="#45c4c8"/>
<rect x="295.7" y="174.8" width="1.6" height="4.4" fill="#74dcdc"/>
<rect x="299" y="170.6" width="1" height="4.6" fill="#45c4c8"/>
<rect x="298.7" y="171.9" width="1.6" height="1.9" fill="#3cbcc0"/>
<rect x="302" y="167.8" width="1" height="7.6" fill="#45c4c8"/>
<rect x="301.7" y="169.3" width="1.6" height="4.1" fill="#74dcdc"/>
<rect x="306" y="163.0" width="1" height="14.5" fill="#45c4c8"/>
<rect x="305.7" y="167.1" width="1.6" height="6.5" fill="#74dcdc"/>
<rect x="308" y="152.2" width="1" height="12.3" fill="#45c4c8"/>
<rect x="307.7" y="153.6" width="1.6" height="8.6" fill="#3cbcc0"/>
<rect x="309" y="153.8" width="1" height="7.6" fill="#45c4c8"/>
<rect x="308.7" y="155.7" width="1.6" height="4.2" fill="#74dcdc"/>
<rect x="312" y="159.9" width="1" height="11.5" fill="#45c4c8"/>
<rect x="311.7" y="162.9" width="1.6" height="7.2" fill="#3cbcc0"/>
<rect x="317" y="170.6" width="1" height="15.3" fill="#45c4c8"/>
<rect x="316.7" y="172.7" width="1.6" height="10.7" fill="#3cbcc0"/>
<rect x="319" y="182.0" width="1" height="13.0" fill="#45c4c8"/>
<rect x="318.7" y="183.7" width="1.6" height="9.6" fill="#3cbcc0"/>
<rect x="321" y="189.0" width="1" height="11.4" fill="#45c4c8"/>
<rect x="320.7" y="191.8" width="1.6" height="5.6" fill="#3cbcc0"/>
<rect x="325" y="179.0" width="1" height="21.4" fill="#45c4c8"/>
<rect x="324.7" y="185.2" width="1.6" height="11.0" fill="#3cbcc0"/>
<rect x="330" y="173.7" width="1" height="6.1" fill="#45c4c8"/>
<rect x="329.7" y="174.4" width="1.6" height="4.5" fill="#3cbcc0"/>
<rect x="332" y="176.7" width="1" height="7.7" fill="#45c4c8"/>
<rect x="331.7" y="177.9" width="1.6" height="4.6" fill="#3cbcc0"/>
<rect x="333" y="182.5" width="1" height="13.8" fill="#45c4c8"/>
<rect x="332.7" y="185.3" width="1.6" height="7.3" fill="#3cbcc0"/>
<rect x="335" y="193.2" width="1" height="13.8" fill="#45c4c8"/>
<rect x="334.7" y="195.4" width="1.6" height="9.1" fill="#3cbcc0"/>
<rect x="337" y="200.9" width="1" height="11.5" fill="#45c4c8"/>
<rect x="336.7" y="204.1" width="1.6" height="6.6" fill="#3cbcc0"/>
<rect x="343" y="197.8" width="1" height="10.7" fill="#45c4c8"/>
<rect x="342.7" y="200.9" width="1.6" height="5.4" fill="#3cbcc0"/>
<rect x="345" y="197.8" width="1" height="11.5" fill="#45c4c8"/>
<rect x="344.7" y="199.4" width="1.6" height="7.5" fill="#3cbcc0"/>
<rect x="348" y="200.0" width="1" height="7.8" fill="#45c4c8"/>
<rect x="347.7" y="201.7" width="1.6" height="5.3" fill="#3cbcc0"/>
<rect x="351" y="200.7" width="1" height="5.9" fill="#45c4c8"/>
<rect x="350.7" y="201.9" width="1.6" height="3.7" fill="#3cbcc0"/>
<rect x="354" y="200.0" width="1" height="7.0" fill="#45c4c8"/>
<rect x="353.7" y="201.5" width="1.6" height="4.1" fill="#3cbcc0"/>
<rect x="357" y="197.8" width="1" height="10.7" fill="#45c4c8"/>
<rect x="356.7" y="199.0" width="1.6" height="7.3" fill="#3cbcc0"/>
<rect x="358" y="192.5" width="1" height="11.5" fill="#45c4c8"/>
<rect x="357.7" y="195.9" width="1.6" height="4.9" fill="#74dcdc"/>
<rect x="361" y="183.3" width="1" height="19.1" fill="#45c4c8"/>
<rect x="360.7" y="187.0" width="1.6" height="13.0" fill="#3cbcc0"/>
<rect x="367" y="171.8" width="1" height="12.2" fill="#45c4c8"/>
<rect x="366.7" y="175.0" width="1.6" height="5.6" fill="#3cbcc0"/>
<rect x="369" y="178.0" width="1" height="9.9" fill="#45c4c8"/>
<rect x="368.7" y="179.6" width="1.6" height="6.9" fill="#3cbcc0"/>
<rect x="371" y="182.5" width="1" height="17.6" fill="#45c4c8"/>
<rect x="370.7" y="187.5" width="1.6" height="10.4" fill="#3cbcc0"/>
<rect x="377" y="194.8" width="1" height="6.1" fill="#45c4c8"/>
<rect x="376.7" y="195.4" width="1.6" height="4.6" fill="#74dcdc"/>
<rect x="380" y="194.8" width="1" height="7.6" fill="#45c4c8"/>
<rect x="379.7" y="196.6" width="1.6" height="4.5" fill="#74dcdc"/>
<rect x="383" y="197.8" width="1" height="9.2" fill="#45c4c8"/>
<rect x="382.7" y="199.9" width="1.6" height="6.0" fill="#3cbcc0"/>
<rect x="384" y="205.5" width="1" height="9.2" fill="#45c4c8"/>
<rect x="383.7" y="206.6" width="1.6" height="6.2" fill="#74dcdc"/>
<rect x="390" y="204.0" width="1" height="7.6" fill="#45c4c8"/>
<rect x="389.7" y="205.1" width="1.6" height="5.0" fill="#3cbcc0"/>
<rect x="393" y="208.5" width="1" height="8.5" fill="#45c4c8"/>
<rect x="392.7" y="210.0" width="1.6" height="5.5" fill="#3cbcc0"/>
<rect x="395" y="210.0" width="1" height="7.7" fill="#45c4c8"/>
<rect x="394.7" y="211.0" width="1.6" height="5.6" fill="#3cbcc0"/>
<rect x="397" y="204.0" width="1" height="10.7" fill="#45c4c8"/>
<rect x="396.7" y="206.4" width="1.6" height="6.1" fill="#3cbcc0"/>
<rect x="403" y="200.9" width="1" height="9.1" fill="#45c4c8"/>
<rect x="402.7" y="202.9" width="1.6" height="4.6" fill="#74dcdc"/>
<rect x="406" y="199.4" width="1" height="8.4" fill="#45c4c8"/>
<rect x="405.7" y="201.5" width="1.6" height="4.1" fill="#3cbcc0"/>
<rect x="409" y="202.4" width="1" height="10.0" fill="#45c4c8"/>
<rect x="408.7" y="204.0" width="1.6" height="6.7" fill="#3cbcc0"/>
<rect x="410" y="203.0" width="1" height="9.2" fill="#45c4c8"/>
<rect x="409.7" y="204.3" width="1.6" height="5.1" fill="#3cbcc0"/>
<rect x="416" y="211.5" width="1" height="5.3" fill="#45c4c8"/>
<rect x="415.7" y="212.2" width="1.6" height="3.8" fill="#3cbcc0"/>
<rect x="419" y="213.8" width="1" height="6.1" fill="#45c4c8"/>
<rect x="418.7" y="214.7" width="1.6" height="4.4" fill="#3cbcc0"/>
<rect x="420" y="217.6" width="1" height="16.8" fill="#45c4c8"/>
<rect x="419.7" y="220.7" width="1.6" height="9.4" fill="#74dcdc"/>
<rect x="422" y="229.0" width="1" height="13.0" fill="#45c4c8"/>
<rect x="421.7" y="231.3" width="1.6" height="7.6" fill="#74dcdc"/>
<rect x="423" y="241.3" width="1" height="25.2" fill="#45c4c8"/>
<rect x="422.7" y="244.8" width="1.6" height="15.7" fill="#3cbcc0"/>
<rect x="430" y="261.2" width="1" height="18.8" fill="#45c4c8"/>
<rect x="429.7" y="266.7" width="1.6" height="11.0" fill="#3cbcc0"/>
<rect x="431" y="250.5" width="1" height="13.7" fill="#45c4c8"/>
<rect x="430.7" y="253.9" width="1.6" height="7.5" fill="#3cbcc0"/>
<rect x="432" y="247.4" width="1" height="6.1" fill="#45c4c8"/>
<rect x="431.7" y="248.2" width="1.6" height="4.6" fill="#74dcdc"/>
<rect x="435" y="235.2" width="1" height="15.3" fill="#45c4c8"/>
<rect x="434.7" y="236.8" width="1.6" height="10.4" fill="#3cbcc0"/>
<rect x="436" y="239.8" width="1" height="7.6" fill="#45c4c8"/>
<rect x="435.7" y="241.4" width="1.6" height="5.0" fill="#74dcdc"/>
<rect x="442" y="242.8" width="1" height="9.2" fill="#45c4c8"/>
<rect x="441.7" y="244.1" width="1.6" height="5.4" fill="#3cbcc0"/>
<rect x="444" y="249.0" width="1" height="12.2" fill="#45c4c8"/>
<rect x="443.7" y="252.5" width="1.6" height="7.3" fill="#74dcdc"/>
<rect x="446" y="244.4" width="1" height="15.3" fill="#45c4c8"/>
<rect x="445.7" y="248.8" width="1.6" height="7.9" fill="#3cbcc0"/>
<rect x="449" y="249.0" width="1" height="8.4" fill="#45c4c8"/>
<rect x="448.7" y="250.4" width="1.6" height="5.4" fill="#3cbcc0"/>
<rect x="455" y="250.5" width="1" height="7.6" fill="#45c4c8"/>
<rect x="454.7" y="251.9" width="1.6" height="4.5" fill="#74dcdc"/>
<rect x="457" y="255.0" width="1" height="9.2" fill="#45c4c8"/>
<rect x="456.7" y="257.2" width="1.6" height="4.5" fill="#74dcdc"/>
<rect x="459" y="255.0" width="1" height="14.6" fill="#45c4c8"/>
<rect x="458.7" y="257.8" width="1.6" height="8.2" fill="#3cbcc0"/>
<rect x="462" y="257.4" width="1" height="8.4" fill="#45c4c8"/>
<rect x="461.7" y="258.6" width="1.6" height="6.1" fill="#3cbcc0"/>
<rect x="468" y="262.7" width="1" height="4.6" fill="#45c4c8"/>
<rect x="467.7" y="263.2" width="1.6" height="2.8" fill="#3cbcc0"/>
<rect x="470" y="256.6" width="1" height="7.6" fill="#45c4c8"/>
<rect x="469.7" y="258.4" width="1.6" height="3.7" fill="#3cbcc0"/>
<rect x="473" y="252.0" width="1" height="9.2" fill="#45c4c8"/>
<rect x="472.7" y="253.7" width="1.6" height="5.5" fill="#3cbcc0"/>
<rect x="475" y="247.4" width="1" height="9.2" fill="#45c4c8"/>
<rect x="474.7" y="250.1" width="1.6" height="4.1" fill="#74dcdc"/>
<rect x="482" y="247.2" width="1" height="14.5" fill="#45c4c8"/>
<rect x="481.7" y="251.3" width="1.6" height="6.8" fill="#3cbcc0"/>
<rect x="484" y="258.7" width="1" height="12.2" fill="#45c4c8"/>
<rect x="483.7" y="261.9" width="1.6" height="6.8" fill="#3cbcc0"/>
<rect x="486" y="267.8" width="1" height="7.7" fill="#45c4c8"/>
<rect x="485.7" y="269.9" width="1.6" height="3.7" fill="#3cbcc0"/>
<rect x="488" y="270.9" width="1" height="14.5" fill="#45c4c8"/>
<rect x="487.7" y="274.6" width="1.6" height="8.2" fill="#3cbcc0"/>
<rect x="493" y="270.0" width="1" height="11.6" fill="#45c4c8"/>
<rect x="492.7" y="271.3" width="1.6" height="8.3" fill="#3cbcc0"/>
<rect x="495" y="275.5" width="1" height="11.5" fill="#45c4c8"/>
<rect x="494.7" y="276.7" width="1.6" height="8.4" fill="#3cbcc0"/>
<rect x="498" y="277.0" width="1" height="12.2" fill="#45c4c8"/>
<rect x="497.7" y="279.7" width="1.6" height="7.7" fill="#3cbcc0"/>
<rect x="500" y="280.0" width="1" height="7.7" fill="#45c4c8"/>
<rect x="499.7" y="281.8" width="1.6" height="4.6" fill="#3cbcc0"/>
<rect x="506" y="283.0" width="1" height="6.2" fill="#45c4c8"/>
<rect x="505.7" y="284.3" width="1.6" height="3.6" fill="#74dcdc"/>
<rect x="509" y="275.5" width="1" height="9.9" fill="#45c4c8"/>
<rect x="508.7" y="278.5" width="1.6" height="4.7" fill="#3cbcc0"/>
<rect x="511" y="270.9" width="1" height="7.6" fill="#45c4c8"/>
<rect x="510.7" y="272.8" width="1.6" height="3.4" fill="#74dcdc"/>
<rect x="513" y="269.4" width="1" height="6.1" fill="#45c4c8"/>
<rect x="512.7" y="270.8" width="1.6" height="3.2" fill="#74dcdc"/>
<rect x="519" y="266.3" width="1" height="7.7" fill="#45c4c8"/>
<rect x="518.7" y="267.7" width="1.6" height="5.5" fill="#74dcdc"/>
<rect x="521" y="264.0" width="1" height="11.5" fill="#45c4c8"/>
<rect x="520.7" y="266.0" width="1.6" height="8.1" fill="#74dcdc"/>
<rect x="524" y="262.5" width="1" height="9.9" fill="#45c4c8"/>
<rect x="523.7" y="265.3" width="1.6" height="5.0" fill="#3cbcc0"/>
<rect x="526" y="264.8" width="1" height="7.6" fill="#45c4c8"/>
<rect x="525.7" y="267.0" width="1.6" height="3.7" fill="#3cbcc0"/>
<rect x="532" y="264.8" width="1" height="13.7" fill="#45c4c8"/>
<rect x="531.7" y="267.9" width="1.6" height="7.0" fill="#74dcdc"/>
<rect x="534" y="263.2" width="1" height="10.8" fill="#45c4c8"/>
<rect x="533.7" y="265.6" width="1.6" height="5.7" fill="#74dcdc"/>
<rect x="537" y="257.9" width="1" height="8.4" fill="#45c4c8"/>
<rect x="536.7" y="260.3" width="1.6" height="4.9" fill="#3cbcc0"/>
<rect x="539" y="240.3" width="1" height="20.7" fill="#45c4c8"/>
<rect x="538.7" y="243.1" width="1.6" height="13.8" fill="#3cbcc0"/>
<rect x="544" y="234.2" width="1" height="7.6" fill="#45c4c8"/>
<rect x="543.7" y="235.0" width="1.6" height="4.6" fill="#3cbcc0"/>
<rect x="547" y="230.4" width="1" height="8.4" fill="#45c4c8"/>
<rect x="546.7" y="232.1" width="1.6" height="4.8" fill="#74dcdc"/>
<rect x="550" y="226.5" width="1" height="7.7" fill="#45c4c8"/>
<rect x="549.7" y="227.7" width="1.6" height="4.7" fill="#3cbcc0"/>
<rect x="553" y="225.0" width="1" height="6.1" fill="#45c4c8"/>
<rect x="552.7" y="226.0" width="1.6" height="3.7" fill="#74dcdc"/>
<rect x="559" y="224.2" width="1" height="9.2" fill="#45c4c8"/>
<rect x="558.7" y="225.1" width="1.6" height="6.9" fill="#74dcdc"/>
<rect x="561" y="228.8" width="1" height="9.2" fill="#45c4c8"/>
<rect x="560.7" y="230.0" width="1.6" height="5.7" fill="#74dcdc"/>
<rect x="564" y="222.0" width="1" height="9.9" fill="#45c4c8"/>
<rect x="563.7" y="224.8" width="1.6" height="4.7" fill="#74dcdc"/>
<rect x="570" y="212.0" width="1" height="15.3" fill="#45c4c8"/>
<rect x="569.7" y="216.6" width="1.6" height="6.3" fill="#74dcdc"/>
<rect x="573" y="207.4" width="1" height="7.6" fill="#45c4c8"/>
<rect x="572.7" y="209.5" width="1.6" height="4.1" fill="#3cbcc0"/>
<rect x="575" y="203.6" width="1" height="6.9" fill="#45c4c8"/>
<rect x="574.7" y="205.6" width="1.6" height="3.8" fill="#3cbcc0"/>
<rect x="578" y="204.4" width="1" height="9.9" fill="#45c4c8"/>
<rect x="577.7" y="207.2" width="1.6" height="4.6" fill="#3cbcc0"/>
<rect x="583" y="197.5" width="1" height="8.4" fill="#45c4c8"/>
<rect x="582.7" y="200.0" width="1.6" height="3.7" fill="#3cbcc0"/>
<rect x="586" y="192.9" width="1" height="17.6" fill="#45c4c8"/>
<rect x="585.7" y="195.1" width="1.6" height="11.5" fill="#3cbcc0"/>
<rect x="588" y="196.7" width="1" height="7.7" fill="#45c4c8"/>
<rect x="587.7" y="197.8" width="1.6" height="5.8" fill="#3cbcc0"/>
<rect x="590" y="186.0" width="1" height="19.9" fill="#45c4c8"/>
<rect x="589.7" y="188.5" width="1.6" height="13.7" fill="#3cbcc0"/>
<rect x="596" y="193.7" width="1" height="9.1" fill="#45c4c8"/>
<rect x="595.7" y="195.4" width="1.6" height="6.0" fill="#3cbcc0"/>
<rect x="599" y="173.8" width="1" height="30.6" fill="#45c4c8"/>
<rect x="598.7" y="179.4" width="1.6" height="17.2" fill="#3cbcc0"/>
<rect x="601" y="176.8" width="1" height="19.9" fill="#45c4c8"/>
<rect x="600.7" y="182.8" width="1.6" height="8.2" fill="#3cbcc0"/>
<rect x="603" y="189.8" width="1" height="11.5" fill="#45c4c8"/>
<rect x="602.7" y="191.5" width="1.6" height="8.4" fill="#3cbcc0"/>
<rect x="608" y="176.8" width="1" height="18.4" fill="#45c4c8"/>
<rect x="607.7" y="181.5" width="1.6" height="9.5" fill="#74dcdc"/>
<rect x="611" y="175.3" width="1" height="12.2" fill="#45c4c8"/>
<rect x="610.7" y="177.2" width="1.6" height="7.4" fill="#3cbcc0"/>
<rect x="614" y="170.7" width="1" height="12.3" fill="#45c4c8"/>
<rect x="613.7" y="173.4" width="1.6" height="6.8" fill="#3cbcc0"/>
<rect x="620" y="172.2" width="1" height="10.8" fill="#45c4c8"/>
<rect x="619.7" y="173.7" width="1.6" height="7.7" fill="#3cbcc0"/>
<rect x="622" y="179.9" width="1" height="12.2" fill="#45c4c8"/>
<rect x="621.7" y="183.4" width="1.6" height="5.4" fill="#74dcdc"/>
<rect x="625" y="179.0" width="1" height="6.2" fill="#45c4c8"/>
<rect x="624.7" y="179.7" width="1.6" height="4.5" fill="#3cbcc0"/>
<rect x="627" y="179.9" width="1" height="6.1" fill="#45c4c8"/>
<rect x="626.7" y="181.3" width="1.6" height="4.0" fill="#3cbcc0"/>
<rect x="631" y="188.0" width="1" height="12.6" fill="#45c4c8"/>
<rect x="630.7" y="189.4" width="1.6" height="9.7" fill="#3cbcc0"/>
<rect x="633" y="194.8" width="1" height="6.9" fill="#45c4c8"/>
<rect x="632.7" y="196.2" width="1.6" height="3.9" fill="#74dcdc"/>
<rect x="635" y="199.4" width="1" height="6.9" fill="#45c4c8"/>
<rect x="634.7" y="200.8" width="1.6" height="4.6" fill="#74dcdc"/>
<rect x="638" y="204.0" width="1" height="10.3" fill="#45c4c8"/>
<rect x="637.7" y="206.6" width="1.6" height="5.0" fill="#74dcdc"/>
<rect x="641" y="205.2" width="1" height="7.6" fill="#45c4c8"/>
<rect x="640.7" y="206.2" width="1.6" height="4.6" fill="#3cbcc0"/>
<rect x="645" y="204.6" width="1" height="8.6" fill="#45c4c8"/>
<rect x="644.7" y="206.8" width="1.6" height="5.2" fill="#3cbcc0"/>
<rect x="647" y="199.4" width="1" height="13.8" fill="#45c4c8"/>
<rect x="646.7" y="201.5" width="1.6" height="8.1" fill="#74dcdc"/>
<rect x="651" y="210.9" width="1" height="6.9" fill="#45c4c8"/>
<rect x="650.7" y="212.5" width="1.6" height="3.3" fill="#74dcdc"/>
<rect x="657" y="205.0" width="1" height="13.9" fill="#45c4c8"/>
<rect x="656.7" y="207.9" width="1.6" height="7.5" fill="#3cbcc0"/>
<rect x="659" y="202.9" width="1" height="8.0" fill="#45c4c8"/>
<rect x="658.7" y="204.4" width="1.6" height="5.1" fill="#74dcdc"/>
<rect x="661" y="193.7" width="1" height="10.3" fill="#45c4c8"/>
<rect x="660.7" y="196.5" width="1.6" height="6.3" fill="#74dcdc"/>
<rect x="663" y="183.4" width="1" height="12.6" fill="#45c4c8"/>
<rect x="662.7" y="186.1" width="1.6" height="7.4" fill="#3cbcc0"/>
<rect x="664" y="183.4" width="1" height="8.0" fill="#45c4c8"/>
<rect x="663.7" y="184.7" width="1.6" height="4.7" fill="#74dcdc"/></g>
<g><rect x="34" y="244.6" width="1" height="9.2" fill="#a8a8a8"/>
<rect x="33.7" y="245.5" width="1.7" height="6.7" fill="#1f74ec"/>
<rect x="35" y="246.0" width="1" height="4.7" fill="#a8a8a8"/>
<rect x="34.7" y="246.3" width="1.7" height="3.9" fill="#a4a4a4"/>
<rect x="40" y="249.2" width="1" height="10.7" fill="#a8a8a8"/>
<rect x="39.7" y="251.3" width="1.7" height="6.6" fill="#1f74ec"/>
<rect x="42" y="255.3" width="1" height="13.7" fill="#a8a8a8"/>
<rect x="41.7" y="256.8" width="1.7" height="11.2" fill="#a4a4a4"/>
<rect x="44" y="258.4" width="1" height="18.3" fill="#a8a8a8"/>
<rect x="43.7" y="260.6" width="1.7" height="12.5" fill="#1f74ec"/>
<rect x="45" y="270.6" width="1" height="16.8" fill="#a8a8a8"/>
<rect x="44.7" y="272.7" width="1.7" height="13.5" fill="#1f74ec"/>
<rect x="48" y="266.0" width="1" height="23.7" fill="#a8a8a8"/>
<rect x="47.7" y="270.5" width="1.7" height="15.3" fill="#a4a4a4"/>
<rect x="53" y="275.2" width="1" height="15.3" fill="#a8a8a8"/>
<rect x="52.7" y="278.8" width="1.7" height="8.1" fill="#a4a4a4"/>
<rect x="54" y="269.0" width="1" height="24.5" fill="#a8a8a8"/>
<rect x="53.7" y="274.7" width="1.7" height="15.4" fill="#a4a4a4"/>
<rect x="56" y="279.8" width="1" height="15.2" fill="#a8a8a8"/>
<rect x="55.7" y="283.0" width="1.7" height="10.3" fill="#1f74ec"/>
<rect x="58" y="281.3" width="1" height="24.5" fill="#a8a8a8"/>
<rect x="57.7" y="284.1" width="1.7" height="18.5" fill="#a4a4a4"/>
<rect x="59" y="292.0" width="1" height="9.2" fill="#a8a8a8"/>
<rect x="58.7" y="294.2" width="1.7" height="4.9" fill="#1f74ec"/>
<rect x="61" y="292.0" width="1" height="24.5" fill="#a8a8a8"/>
<rect x="60.7" y="294.4" width="1.7" height="19.1" fill="#1f74ec"/>
<rect x="64" y="295.6" width="1" height="16.6" fill="#a8a8a8"/>
<rect x="63.7" y="297.6" width="1.7" height="12.5" fill="#a4a4a4"/>
<rect x="68" y="295.0" width="1" height="16.9" fill="#a8a8a8"/>
<rect x="67.7" y="297.2" width="1.7" height="12.6" fill="#a4a4a4"/>
<rect x="70" y="302.7" width="1" height="16.8" fill="#a8a8a8"/>
<rect x="69.7" y="304.2" width="1.7" height="12.6" fill="#1f74ec"/>
<rect x="72" y="295.0" width="1" height="16.9" fill="#a8a8a8"/>
<rect x="71.7" y="298.5" width="1.7" height="10.7" fill="#a4a4a4"/>
<rect x="78" y="301.5" width="1" height="13.8" fill="#a8a8a8"/>
<rect x="77.7" y="304.5" width="1.7" height="8.6" fill="#1f74ec"/>
<rect x="80" y="307.6" width="1" height="12.3" fill="#a8a8a8"/>
<rect x="79.7" y="308.6" width="1.7" height="8.8" fill="#a4a4a4"/>
<rect x="81" y="304.6" width="1" height="19.9" fill="#a8a8a8"/>
<rect x="80.7" y="309.1" width="1.7" height="13.3" fill="#a4a4a4"/>
<rect x="83" y="306.0" width="1" height="15.4" fill="#a8a8a8"/>
<rect x="82.7" y="306.8" width="1.7" height="12.2" fill="#a4a4a4"/>
<rect x="85" y="318.4" width="1" height="18.3" fill="#a8a8a8"/>
<rect x="84.7" y="321.3" width="1.7" height="12.4" fill="#1f74ec"/>
<rect x="91" y="324.5" width="1" height="12.2" fill="#a8a8a8"/>
<rect x="90.7" y="327.5" width="1.7" height="7.0" fill="#a4a4a4"/>
<rect x="93" y="327.5" width="1" height="24.5" fill="#a8a8a8"/>
<rect x="92.7" y="332.7" width="1.7" height="17.8" fill="#1f74ec"/>
<rect x="95" y="336.7" width="1" height="26.0" fill="#a8a8a8"/>
<rect x="94.7" y="340.8" width="1.7" height="16.5" fill="#a4a4a4"/>
<rect x="97" y="337.5" width="1" height="17.5" fill="#a8a8a8"/>
<rect x="96.7" y="338.7" width="1.7" height="15.2" fill="#a4a4a4"/>
<rect x="99" y="341.3" width="1" height="13.7" fill="#a8a8a8"/>
<rect x="98.7" y="344.0" width="1.7" height="7.8" fill="#1f74ec"/>
<rect x="104" y="345.9" width="1" height="28.6" fill="#a8a8a8"/>
<rect x="103.7" y="347.8" width="1.7" height="21.6" fill="#1f74ec"/>
<rect x="106" y="368.4" width="1" height="21.4" fill="#a8a8a8"/>
<rect x="105.7" y="370.1" width="1.7" height="15.5" fill="#a4a4a4"/>
<rect x="108" y="368.4" width="1" height="24.4" fill="#a8a8a8"/>
<rect x="107.7" y="372.8" width="1.7" height="17.6" fill="#a4a4a4"/>
<rect x="110" y="383.7" width="1" height="41.3" fill="#a8a8a8"/>
<rect x="109.7" y="387.6" width="1.7" height="29.0" fill="#1f74ec"/>
<rect x="112" y="372.0" width="1" height="25.4" fill="#a8a8a8"/>
<rect x="111.7" y="375.9" width="1.7" height="16.3" fill="#a4a4a4"/>
<rect x="116" y="364.4" width="1" height="19.4" fill="#a8a8a8"/>
<rect x="115.7" y="366.9" width="1.7" height="14.6" fill="#1f74ec"/>
<rect x="120" y="352.0" width="1" height="23.0" fill="#a8a8a8"/>
<rect x="119.7" y="357.6" width="1.7" height="13.2" fill="#a4a4a4"/>
<rect x="121" y="351.5" width="1" height="24.5" fill="#a8a8a8"/>
<rect x="120.7" y="355.1" width="1.7" height="17.0" fill="#a4a4a4"/>
<rect x="122" y="357.6" width="1" height="18.4" fill="#a8a8a8"/>
<rect x="121.7" y="361.2" width="1.7" height="11.3" fill="#1f74ec"/>
<rect x="124" y="364.2" width="1" height="16.4" fill="#a8a8a8"/>
<rect x="123.7" y="368.0" width="1.7" height="10.4" fill="#a4a4a4"/>
<rect x="128" y="364.3" width="1" height="21.9" fill="#a8a8a8"/>
<rect x="127.7" y="369.1" width="1.7" height="13.2" fill="#1f74ec"/>
<rect x="131" y="359.0" width="1" height="38.4" fill="#a8a8a8"/>
<rect x="130.7" y="367.5" width="1.7" height="21.8" fill="#a4a4a4"/>
<rect x="132" y="373.0" width="1" height="7.6" fill="#a8a8a8"/>
<rect x="131.7" y="374.6" width="1.7" height="4.2" fill="#1f74ec"/>
<rect x="134" y="373.0" width="1" height="24.4" fill="#a8a8a8"/>
<rect x="133.7" y="378.9" width="1.7" height="14.2" fill="#a4a4a4"/>
<rect x="136" y="367.3" width="1" height="22.5" fill="#a8a8a8"/>
<rect x="135.7" y="370.8" width="1.7" height="14.7" fill="#1f74ec"/>
<rect x="138" y="366.0" width="1" height="16.0" fill="#a8a8a8"/>
<rect x="137.7" y="369.4" width="1.7" height="10.5" fill="#a4a4a4"/>
<rect x="144" y="353.5" width="1" height="31.7" fill="#a8a8a8"/>
<rect x="143.7" y="357.8" width="1.7" height="24.9" fill="#a4a4a4"/>
<rect x="145" y="345.9" width="1" height="15.3" fill="#a8a8a8"/>
<rect x="144.7" y="348.9" width="1.7" height="8.5" fill="#a4a4a4"/>
<rect x="148" y="350.5" width="1" height="7.5" fill="#a8a8a8"/>
<rect x="147.7" y="351.4" width="1.7" height="5.9" fill="#a4a4a4"/>
<rect x="150" y="338.2" width="1" height="16.8" fill="#a8a8a8"/>
<rect x="149.7" y="339.7" width="1.7" height="13.0" fill="#a4a4a4"/>
<rect x="155" y="334.4" width="1" height="13.0" fill="#a8a8a8"/>
<rect x="154.7" y="335.8" width="1.7" height="8.4" fill="#a4a4a4"/>
<rect x="157" y="336.7" width="1" height="19.9" fill="#a8a8a8"/>
<rect x="156.7" y="337.9" width="1.7" height="16.4" fill="#1f74ec"/>
<rect x="158" y="342.8" width="1" height="18.4" fill="#a8a8a8"/>
<rect x="157.7" y="344.1" width="1.7" height="13.8" fill="#a4a4a4"/>
<rect x="161" y="329.0" width="1" height="21.5" fill="#a8a8a8"/>
<rect x="160.7" y="333.4" width="1.7" height="15.2" fill="#a4a4a4"/>
<rect x="163" y="319.0" width="1" height="16.2" fill="#a8a8a8"/>
<rect x="162.7" y="320.0" width="1.7" height="12.9" fill="#a4a4a4"/>
<rect x="168" y="319.0" width="1" height="10.0" fill="#a8a8a8"/>
<rect x="167.7" y="320.7" width="1.7" height="6.0" fill="#1f74ec"/>
<rect x="171" y="321.4" width="1" height="7.6" fill="#a8a8a8"/>
<rect x="170.7" y="321.8" width="1.7" height="6.6" fill="#a4a4a4"/>
<rect x="172" y="316.0" width="1" height="31.4" fill="#a8a8a8"/>
<rect x="171.7" y="318.7" width="1.7" height="25.7" fill="#1f74ec"/>
<rect x="174" y="335.2" width="1" height="13.8" fill="#a8a8a8"/>
<rect x="173.7" y="336.5" width="1.7" height="9.8" fill="#a4a4a4"/>
<rect x="176" y="338.2" width="1" height="9.2" fill="#a8a8a8"/>
<rect x="175.7" y="339.8" width="1.7" height="6.8" fill="#1f74ec"/>
<rect x="181" y="333.7" width="1" height="12.2" fill="#a8a8a8"/>
<rect x="180.7" y="334.8" width="1.7" height="9.8" fill="#a4a4a4"/>
<rect x="184" y="329.0" width="1" height="15.4" fill="#a8a8a8"/>
<rect x="183.7" y="330.3" width="1.7" height="11.0" fill="#a4a4a4"/>
<rect x="185" y="326.0" width="1" height="18.4" fill="#a8a8a8"/>
<rect x="184.7" y="328.1" width="1.7" height="13.4" fill="#1f74ec"/>
<rect x="187" y="338.2" width="1" height="10.8" fill="#a8a8a8"/>
<rect x="186.7" y="340.5" width="1.7" height="6.9" fill="#a4a4a4"/>
<rect x="190" y="337.5" width="1" height="9.5" fill="#a8a8a8"/>
<rect x="189.7" y="338.5" width="1.7" height="6.4" fill="#a4a4a4"/>
<rect x="194" y="334.4" width="1" height="13.0" fill="#a8a8a8"/>
<rect x="193.7" y="337.4" width="1.7" height="8.4" fill="#1f74ec"/>
<rect x="197" y="339.8" width="1" height="21.4" fill="#a8a8a8"/>
<rect x="196.7" y="343.2" width="1.7" height="12.8" fill="#1f74ec"/>
<rect x="199" y="353.5" width="1" height="9.2" fill="#a8a8a8"/>
<rect x="198.7" y="354.8" width="1.7" height="7.0" fill="#a4a4a4"/>
<rect x="200" y="356.6" width="1" height="12.2" fill="#a8a8a8"/>
<rect x="199.7" y="357.3" width="1.7" height="8.5" fill="#1f74ec"/>
<rect x="202" y="358.0" width="1" height="12.4" fill="#a8a8a8"/>
<rect x="201.7" y="360.6" width="1.7" height="8.2" fill="#a4a4a4"/>
<rect x="207" y="364.2" width="1" height="10.8" fill="#a8a8a8"/>
<rect x="206.7" y="365.9" width="1.7" height="7.5" fill="#a4a4a4"/>
<rect x="209" y="369.0" width="1" height="12.2" fill="#a8a8a8"/>
<rect x="208.7" y="370.3" width="1.7" height="7.9" fill="#1f74ec"/>
<rect x="211" y="368.0" width="1" height="12.0" fill="#a8a8a8"/>
<rect x="210.7" y="370.2" width="1.7" height="8.7" fill="#a4a4a4"/>
<rect x="213" y="372.0" width="1" height="15.3" fill="#a8a8a8"/>
<rect x="212.7" y="372.8" width="1.7" height="12.3" fill="#1f74ec"/>
<rect x="215" y="376.6" width="1" height="9.2" fill="#a8a8a8"/>
<rect x="214.7" y="377.7" width="1.7" height="6.1" fill="#a4a4a4"/>
<rect x="220" y="370.5" width="1" height="15.3" fill="#a8a8a8"/>
<rect x="219.7" y="373.4" width="1.7" height="9.7" fill="#a4a4a4"/>
<rect x="221" y="365.9" width="1" height="12.1" fill="#a8a8a8"/>
<rect x="220.7" y="366.9" width="1.7" height="10.1" fill="#a4a4a4"/>
<rect x="223" y="365.9" width="1" height="6.1" fill="#a8a8a8"/>
<rect x="222.7" y="366.6" width="1.7" height="4.8" fill="#1f74ec"/>
<rect x="225" y="362.8" width="1" height="6.2" fill="#a8a8a8"/>
<rect x="224.7" y="364.2" width="1.7" height="3.9" fill="#a4a4a4"/>
<rect x="227" y="364.4" width="1" height="10.6" fill="#a8a8a8"/>
<rect x="226.7" y="366.3" width="1.7" height="6.1" fill="#1f74ec"/>
<rect x="232" y="367.4" width="1" height="13.0" fill="#a8a8a8"/>
<rect x="231.7" y="368.7" width="1.7" height="9.6" fill="#a4a4a4"/>
<rect x="236" y="350.6" width="1" height="21.4" fill="#a8a8a8"/>
<rect x="235.7" y="352.3" width="1.7" height="15.3" fill="#a4a4a4"/>
<rect x="238" y="344.5" width="1" height="12.2" fill="#a8a8a8"/>
<rect x="237.7" y="345.1" width="1.7" height="9.0" fill="#a4a4a4"/>
<rect x="239" y="339.9" width="1" height="13.8" fill="#a8a8a8"/>
<rect x="238.7" y="342.9" width="1.7" height="7.8" fill="#a4a4a4"/>
<rect x="246" y="333.8" width="1" height="12.2" fill="#a8a8a8"/>
<rect x="245.7" y="334.6" width="1.7" height="10.1" fill="#a4a4a4"/>
<rect x="247" y="329.2" width="1" height="12.2" fill="#a8a8a8"/>
<rect x="246.7" y="331.6" width="1.7" height="9.0" fill="#a4a4a4"/>
<rect x="249" y="333.8" width="1" height="16.8" fill="#a8a8a8"/>
<rect x="248.7" y="336.3" width="1.7" height="11.9" fill="#1f74ec"/>
<rect x="251" y="347.5" width="1" height="7.7" fill="#a8a8a8"/>
<rect x="250.7" y="349.4" width="1.7" height="4.6" fill="#1f74ec"/>
<rect x="252" y="344.5" width="1" height="9.2" fill="#a8a8a8"/>
<rect x="251.7" y="346.5" width="1.7" height="6.1" fill="#a4a4a4"/>
<rect x="258" y="344.5" width="1" height="10.7" fill="#a8a8a8"/>
<rect x="257.7" y="346.7" width="1.7" height="7.0" fill="#a4a4a4"/>
<rect x="260" y="346.0" width="1" height="16.8" fill="#a8a8a8"/>
<rect x="259.7" y="349.9" width="1.7" height="11.7" fill="#1f74ec"/>
<rect x="262" y="359.8" width="1" height="10.7" fill="#a8a8a8"/>
<rect x="261.7" y="362.1" width="1.7" height="7.4" fill="#1f74ec"/>
<rect x="264" y="365.9" width="1" height="9.1" fill="#a8a8a8"/>
<rect x="263.7" y="367.3" width="1.7" height="6.2" fill="#1f74ec"/>
<rect x="266" y="365.9" width="1" height="18.3" fill="#a8a8a8"/>
<rect x="265.7" y="367.4" width="1.7" height="12.8" fill="#a4a4a4"/>
<rect x="271" y="364.4" width="1" height="9.1" fill="#a8a8a8"/>
<rect x="270.7" y="365.4" width="1.7" height="7.1" fill="#1f74ec"/>
<rect x="274" y="369.0" width="1" height="7.6" fill="#a8a8a8"/>
<rect x="273.7" y="369.5" width="1.7" height="6.3" fill="#a4a4a4"/>
<rect x="276" y="369.0" width="1" height="10.7" fill="#a8a8a8"/>
<rect x="275.7" y="370.5" width="1.7" height="7.1" fill="#a4a4a4"/>
<rect x="278" y="372.0" width="1" height="12.2" fill="#a8a8a8"/>
<rect x="277.7" y="373.5" width="1.7" height="8.4" fill="#1f74ec"/>
<rect x="284" y="369.0" width="1" height="16.8" fill="#a8a8a8"/>
<rect x="283.7" y="370.2" width="1.7" height="13.4" fill="#a4a4a4"/>
<rect x="287" y="367.4" width="1" height="6.1" fill="#a8a8a8"/>
<rect x="286.7" y="368.3" width="1.7" height="3.7" fill="#a4a4a4"/>
<rect x="288" y="342.2" width="1" height="28.3" fill="#a8a8a8"/>
<rect x="287.7" y="348.3" width="1.7" height="17.1" fill="#a4a4a4"/>
<rect x="291" y="346.0" width="1" height="7.7" fill="#a8a8a8"/>
<rect x="290.7" y="346.4" width="1.7" height="6.3" fill="#1f74ec"/>
<rect x="297" y="347.5" width="1" height="10.7" fill="#a8a8a8"/>
<rect x="296.7" y="349.6" width="1.7" height="7.6" fill="#a4a4a4"/>
<rect x="299" y="343.0" width="1" height="12.2" fill="#a8a8a8"/>
<rect x="298.7" y="345.0" width="1.7" height="8.5" fill="#a4a4a4"/>
<rect x="301" y="344.5" width="1" height="6.1" fill="#a8a8a8"/>
<rect x="300.7" y="344.8" width="1.7" height="4.3" fill="#a4a4a4"/>
<rect x="302" y="346.8" width="1" height="9.9" fill="#a8a8a8"/>
<rect x="301.7" y="348.9" width="1.7" height="6.9" fill="#1f74ec"/>
<rect x="304" y="349.0" width="1" height="7.7" fill="#a8a8a8"/>
<rect x="303.7" y="350.3" width="1.7" height="5.5" fill="#a4a4a4"/>
<rect x="308" y="346.2" width="1" height="8.0" fill="#a8a8a8"/>
<rect x="307.7" y="347.2" width="1.7" height="5.7" fill="#1f74ec"/>
<rect x="311" y="341.4" width="1" height="12.3" fill="#a8a8a8"/>
<rect x="310.7" y="342.7" width="1.7" height="9.5" fill="#a4a4a4"/>
<rect x="313" y="349.8" width="1" height="10.0" fill="#a8a8a8"/>
<rect x="312.7" y="351.1" width="1.7" height="6.9" fill="#1f74ec"/>
<rect x="315" y="352.0" width="1" height="10.8" fill="#a8a8a8"/>
<rect x="314.7" y="353.1" width="1.7" height="8.7" fill="#1f74ec"/>
<rect x="317" y="359.8" width="1" height="26.0" fill="#a8a8a8"/>
<rect x="316.7" y="364.9" width="1.7" height="17.9" fill="#1f74ec"/>
<rect x="322" y="375.0" width="1" height="9.4" fill="#a8a8a8"/>
<rect x="321.7" y="377.2" width="1.7" height="5.6" fill="#a4a4a4"/>
<rect x="324" y="376.6" width="1" height="7.6" fill="#a8a8a8"/>
<rect x="323.7" y="378.1" width="1.7" height="5.2" fill="#1f74ec"/>
<rect x="326" y="380.2" width="1" height="7.8" fill="#a8a8a8"/>
<rect x="325.7" y="381.9" width="1.7" height="5.6" fill="#1f74ec"/>
<rect x="328" y="384.2" width="1" height="10.3" fill="#a8a8a8"/>
<rect x="327.7" y="385.0" width="1.7" height="8.8" fill="#a4a4a4"/>
<rect x="330" y="388.8" width="1" height="12.6" fill="#a8a8a8"/>
<rect x="329.7" y="391.1" width="1.7" height="7.8" fill="#1f74ec"/>
<rect x="335" y="399.0" width="1" height="7.0" fill="#a8a8a8"/>
<rect x="334.7" y="399.6" width="1.7" height="5.5" fill="#1f74ec"/>
<rect x="338" y="403.0" width="1" height="12.2" fill="#a8a8a8"/>
<rect x="337.7" y="405.7" width="1.7" height="7.5" fill="#1f74ec"/>
<rect x="339" y="399.9" width="1" height="15.3" fill="#a8a8a8"/>
<rect x="338.7" y="400.9" width="1.7" height="12.8" fill="#a4a4a4"/>
<rect x="341" y="412.1" width="1" height="15.3" fill="#a8a8a8"/>
<rect x="340.7" y="413.3" width="1.7" height="12.9" fill="#a4a4a4"/>
<rect x="343" y="403.0" width="1" height="9.1" fill="#a8a8a8"/>
<rect x="342.7" y="404.2" width="1.7" height="7.3" fill="#a4a4a4"/>
<rect x="346" y="387.3" width="1" height="11.1" fill="#a8a8a8"/>
<rect x="345.7" y="389.9" width="1.7" height="7.0" fill="#a4a4a4"/>
<rect x="348" y="382.7" width="1" height="10.7" fill="#a8a8a8"/>
<rect x="347.7" y="384.3" width="1.7" height="7.2" fill="#a4a4a4"/>
<rect x="350" y="384.2" width="1" height="6.2" fill="#a8a8a8"/>
<rect x="349.7" y="385.5" width="1.7" height="3.6" fill="#1f74ec"/>
<rect x="353" y="373.5" width="1" height="13.8" fill="#a8a8a8"/>
<rect x="352.7" y="375.3" width="1.7" height="10.4" fill="#a4a4a4"/>
<rect x="354" y="384.6" width="1" height="67.4" fill="#a8a8a8"/>
<rect x="353.7" y="393.5" width="1.7" height="54.9" fill="#1f74ec"/>
<rect x="359" y="425.9" width="1" height="20.0" fill="#a8a8a8"/>
<rect x="358.7" y="428.5" width="1.7" height="13.6" fill="#1f74ec"/>
<rect x="361" y="435.0" width="1" height="12.0" fill="#a8a8a8"/>
<rect x="360.7" y="438.0" width="1.7" height="6.5" fill="#a4a4a4"/>
<rect x="364" y="427.4" width="1" height="16.9" fill="#a8a8a8"/>
<rect x="363.7" y="430.5" width="1.7" height="10.9" fill="#1f74ec"/>
<rect x="364" y="421.4" width="1" height="21.4" fill="#a8a8a8"/>
<rect x="363.7" y="422.5" width="1.7" height="17.8" fill="#a4a4a4"/>
<rect x="366" y="436.7" width="1" height="23.0" fill="#a8a8a8"/>
<rect x="365.7" y="439.4" width="1.7" height="16.1" fill="#1f74ec"/>
<rect x="367" y="421.3" width="1" height="21.4" fill="#a8a8a8"/>
<rect x="366.7" y="422.8" width="1.7" height="17.2" fill="#a4a4a4"/>
<rect x="372" y="444.4" width="1" height="22.9" fill="#a8a8a8"/>
<rect x="371.7" y="447.9" width="1.7" height="14.7" fill="#1f74ec"/>
<rect x="374" y="456.6" width="1" height="16.8" fill="#a8a8a8"/>
<rect x="373.7" y="460.2" width="1.7" height="10.3" fill="#a4a4a4"/>
<rect x="377" y="445.9" width="1" height="19.9" fill="#a8a8a8"/>
<rect x="376.7" y="447.5" width="1.7" height="14.2" fill="#1f74ec"/>
<rect x="383" y="447.4" width="1" height="15.3" fill="#a8a8a8"/>
<rect x="382.7" y="450.9" width="1.7" height="9.3" fill="#a4a4a4"/>
<rect x="384" y="438.2" width="1" height="10.8" fill="#a8a8a8"/>
<rect x="383.7" y="439.5" width="1.7" height="7.9" fill="#a4a4a4"/>
<rect x="387" y="427.5" width="1" height="10.7" fill="#a8a8a8"/>
<rect x="386.7" y="428.3" width="1.7" height="7.8" fill="#1f74ec"/>
<rect x="389" y="419.9" width="1" height="12.2" fill="#a8a8a8"/>
<rect x="388.7" y="422.9" width="1.7" height="7.3" fill="#a4a4a4"/>
<rect x="390" y="407.6" width="1" height="19.9" fill="#a8a8a8"/>
<rect x="389.7" y="411.4" width="1.7" height="11.7" fill="#a4a4a4"/>
<rect x="396" y="407.6" width="1" height="12.3" fill="#a8a8a8"/>
<rect x="395.7" y="408.7" width="1.7" height="8.3" fill="#a4a4a4"/>
<rect x="398" y="409.2" width="1" height="12.2" fill="#a8a8a8"/>
<rect x="397.7" y="411.3" width="1.7" height="9.0" fill="#1f74ec"/>
<rect x="401" y="401.5" width="1" height="19.9" fill="#a8a8a8"/>
<rect x="400.7" y="402.8" width="1.7" height="16.6" fill="#a4a4a4"/>
<rect x="404" y="409.2" width="1" height="12.2" fill="#a8a8a8"/>
<rect x="403.7" y="411.2" width="1.7" height="7.9" fill="#a4a4a4"/>
<rect x="410" y="409.2" width="1" height="10.7" fill="#a8a8a8"/>
<rect x="409.7" y="410.4" width="1.7" height="6.9" fill="#a4a4a4"/>
<rect x="412" y="412.2" width="1" height="18.4" fill="#a8a8a8"/>
<rect x="411.7" y="414.4" width="1.7" height="13.5" fill="#1f74ec"/>
<rect x="415" y="416.8" width="1" height="15.3" fill="#a8a8a8"/>
<rect x="414.7" y="417.9" width="1.7" height="10.4" fill="#a4a4a4"/>
<rect x="416" y="430.6" width="1" height="12.2" fill="#a8a8a8"/>
<rect x="415.7" y="431.5" width="1.7" height="8.4" fill="#1f74ec"/>
<rect x="422" y="427.5" width="1" height="12.3" fill="#a8a8a8"/>
<rect x="421.7" y="429.5" width="1.7" height="8.4" fill="#a4a4a4"/>
<rect x="424" y="415.3" width="1" height="12.2" fill="#a8a8a8"/>
<rect x="423.7" y="417.3" width="1.7" height="9.0" fill="#1f74ec"/>
<rect x="426" y="417.5" width="1" height="12.5" fill="#a8a8a8"/>
<rect x="425.7" y="420.4" width="1.7" height="6.5" fill="#a4a4a4"/>
<rect x="429" y="421.4" width="1" height="12.3" fill="#a8a8a8"/>
<rect x="428.7" y="424.0" width="1.7" height="7.6" fill="#1f74ec"/>
<rect x="430" y="410.6" width="1" height="19.9" fill="#a8a8a8"/>
<rect x="429.7" y="412.1" width="1.7" height="14.1" fill="#a4a4a4"/>
<rect x="435" y="404.5" width="1" height="10.7" fill="#a8a8a8"/>
<rect x="434.7" y="405.7" width="1.7" height="7.1" fill="#a4a4a4"/>
<rect x="436" y="409.0" width="1" height="21.5" fill="#a8a8a8"/>
<rect x="435.7" y="411.1" width="1.7" height="15.8" fill="#1f74ec"/>
<rect x="440" y="416.7" width="1" height="15.3" fill="#a8a8a8"/>
<rect x="439.7" y="420.0" width="1.7" height="10.7" fill="#a4a4a4"/>
<rect x="441" y="418.2" width="1" height="18.4" fill="#a8a8a8"/>
<rect x="440.7" y="421.1" width="1.7" height="14.3" fill="#1f74ec"/>
<rect x="447" y="418.2" width="1" height="13.8" fill="#a8a8a8"/>
<rect x="446.7" y="419.0" width="1.7" height="11.8" fill="#a4a4a4"/>
<rect x="450" y="410.6" width="1" height="15.3" fill="#a8a8a8"/>
<rect x="449.7" y="414.4" width="1.7" height="7.9" fill="#a4a4a4"/>
<rect x="451" y="412.1" width="1" height="9.2" fill="#a8a8a8"/>
<rect x="450.7" y="413.8" width="1.7" height="6.5" fill="#1f74ec"/>
<rect x="453" y="409.8" width="1" height="13.0" fill="#a8a8a8"/>
<rect x="452.7" y="412.2" width="1.7" height="8.0" fill="#a4a4a4"/>
<rect x="454" y="410.6" width="1" height="13.8" fill="#a8a8a8"/>
<rect x="453.7" y="412.3" width="1.7" height="9.7" fill="#a4a4a4"/>
<rect x="460" y="408.3" width="1" height="14.5" fill="#a8a8a8"/>
<rect x="459.7" y="411.4" width="1.7" height="10.7" fill="#1f74ec"/>
<rect x="462" y="413.7" width="1" height="10.7" fill="#a8a8a8"/>
<rect x="461.7" y="414.7" width="1.7" height="8.2" fill="#a4a4a4"/>
<rect x="465" y="413.7" width="1" height="6.1" fill="#a8a8a8"/>
<rect x="464.7" y="414.2" width="1.7" height="4.8" fill="#a4a4a4"/>
<rect x="467" y="399.9" width="1" height="15.3" fill="#a8a8a8"/>
<rect x="466.7" y="402.4" width="1.7" height="11.5" fill="#a4a4a4"/>
<rect x="472" y="402.2" width="1" height="16.0" fill="#a8a8a8"/>
<rect x="471.7" y="404.7" width="1.7" height="11.9" fill="#1f74ec"/>
<rect x="476" y="410.6" width="1" height="7.6" fill="#a8a8a8"/>
<rect x="475.7" y="411.8" width="1.7" height="5.5" fill="#1f74ec"/>
<rect x="478" y="403.7" width="1" height="13.0" fill="#a8a8a8"/>
<rect x="477.7" y="406.0" width="1.7" height="9.9" fill="#a4a4a4"/>
<rect x="480" y="403.0" width="1" height="18.3" fill="#a8a8a8"/>
<rect x="479.7" y="406.4" width="1.7" height="13.5" fill="#a4a4a4"/>
<rect x="484" y="405.3" width="1" height="15.6" fill="#a8a8a8"/>
<rect x="483.7" y="409.1" width="1.7" height="9.2" fill="#1f74ec"/>
<rect x="488" y="403.7" width="1" height="20.7" fill="#a8a8a8"/>
<rect x="487.7" y="406.7" width="1.7" height="15.0" fill="#1f74ec"/>
<rect x="491" y="407.5" width="1" height="18.4" fill="#a8a8a8"/>
<rect x="490.7" y="410.7" width="1.7" height="11.7" fill="#a4a4a4"/>
<rect x="493" y="390.7" width="1" height="18.3" fill="#a8a8a8"/>
<rect x="492.7" y="394.4" width="1.7" height="10.9" fill="#a4a4a4"/>
<rect x="499" y="382.8" width="1" height="12.2" fill="#a8a8a8"/>
<rect x="498.7" y="384.6" width="1.7" height="7.4" fill="#1f74ec"/>
<rect x="500" y="373.7" width="1" height="26.0" fill="#a8a8a8"/>
<rect x="499.7" y="379.4" width="1.7" height="14.6" fill="#a4a4a4"/>
<rect x="502" y="375.2" width="1" height="15.3" fill="#a8a8a8"/>
<rect x="501.7" y="377.2" width="1.7" height="11.2" fill="#a4a4a4"/>
<rect x="504" y="376.7" width="1" height="10.7" fill="#a8a8a8"/>
<rect x="503.7" y="378.4" width="1.7" height="6.5" fill="#1f74ec"/>
<rect x="506" y="384.4" width="1" height="10.6" fill="#a8a8a8"/>
<rect x="505.7" y="386.0" width="1.7" height="7.3" fill="#a4a4a4"/>
<rect x="511" y="382.0" width="1" height="3.9" fill="#a8a8a8"/>
<rect x="510.7" y="382.5" width="1.7" height="2.5" fill="#a4a4a4"/>
<rect x="513" y="382.8" width="1" height="7.7" fill="#a8a8a8"/>
<rect x="512.7" y="383.7" width="1.7" height="6.4" fill="#1f74ec"/>
<rect x="515" y="376.7" width="1" height="19.9" fill="#a8a8a8"/>
<rect x="514.7" y="380.6" width="1.7" height="11.4" fill="#1f74ec"/>
<rect x="516" y="396.6" width="1" height="6.1" fill="#a8a8a8"/>
<rect x="515.7" y="397.8" width="1.7" height="3.9" fill="#1f74ec"/>
<rect x="518" y="399.7" width="1" height="7.6" fill="#a8a8a8"/>
<rect x="517.7" y="401.2" width="1.7" height="5.2" fill="#a4a4a4"/>
<rect x="524" y="404.2" width="1" height="9.2" fill="#a8a8a8"/>
<rect x="523.7" y="405.8" width="1.7" height="7.1" fill="#1f74ec"/>
<rect x="526" y="407.3" width="1" height="10.7" fill="#a8a8a8"/>
<rect x="525.7" y="408.1" width="1.7" height="8.4" fill="#1f74ec"/>
<rect x="527" y="410.4" width="1" height="9.6" fill="#a8a8a8"/>
<rect x="526.7" y="411.8" width="1.7" height="6.9" fill="#a4a4a4"/>
<rect x="532" y="404.2" width="1" height="13.8" fill="#a8a8a8"/>
<rect x="531.7" y="405.0" width="1.7" height="10.4" fill="#a4a4a4"/>
<rect x="537" y="401.2" width="1" height="7.6" fill="#a8a8a8"/>
<rect x="536.7" y="402.4" width="1.7" height="5.7" fill="#a4a4a4"/>
<rect x="539" y="387.4" width="1" height="13.8" fill="#a8a8a8"/>
<rect x="538.7" y="388.9" width="1.7" height="10.5" fill="#a4a4a4"/>
<rect x="542" y="378.2" width="1" height="9.2" fill="#a8a8a8"/>
<rect x="541.7" y="379.1" width="1.7" height="7.7" fill="#a4a4a4"/>
<rect x="544" y="369.0" width="1" height="12.3" fill="#a8a8a8"/>
<rect x="543.7" y="371.9" width="1.7" height="6.5" fill="#1f74ec"/>
<rect x="545" y="368.3" width="1" height="8.4" fill="#a8a8a8"/>
<rect x="544.7" y="369.8" width="1.7" height="5.0" fill="#a4a4a4"/>
<rect x="548" y="369.7" width="1" height="8.3" fill="#a8a8a8"/>
<rect x="547.7" y="370.8" width="1.7" height="5.4" fill="#a4a4a4"/>
<rect x="552" y="369.0" width="1" height="12.3" fill="#a8a8a8"/>
<rect x="551.7" y="370.2" width="1.7" height="8.7" fill="#a4a4a4"/>
<rect x="553" y="362.2" width="1" height="9.9" fill="#a8a8a8"/>
<rect x="552.7" y="363.8" width="1.7" height="6.0" fill="#a4a4a4"/>
<rect x="555" y="369.0" width="1" height="9.2" fill="#a8a8a8"/>
<rect x="554.7" y="369.6" width="1.7" height="6.6" fill="#1f74ec"/>
<rect x="558" y="360.7" width="1" height="17.5" fill="#a8a8a8"/>
<rect x="557.7" y="362.0" width="1.7" height="13.4" fill="#a4a4a4"/>
<rect x="563" y="359.1" width="1" height="13.0" fill="#a8a8a8"/>
<rect x="562.7" y="362.2" width="1.7" height="9.2" fill="#1f74ec"/>
<rect x="565" y="369.0" width="1" height="7.7" fill="#a8a8a8"/>
<rect x="564.7" y="369.8" width="1.7" height="6.1" fill="#a4a4a4"/>
<rect x="568" y="370.6" width="1" height="9.2" fill="#a8a8a8"/>
<rect x="567.7" y="371.7" width="1.7" height="7.6" fill="#1f74ec"/>
<rect x="570" y="369.0" width="1" height="9.2" fill="#a8a8a8"/>
<rect x="569.7" y="371.1" width="1.7" height="5.1" fill="#1f74ec"/>
<rect x="576" y="368.8" width="1" height="7.7" fill="#a8a8a8"/>
<rect x="575.7" y="369.8" width="1.7" height="5.8" fill="#a4a4a4"/>
<rect x="579" y="364.2" width="1" height="10.8" fill="#a8a8a8"/>
<rect x="578.7" y="366.0" width="1.7" height="8.4" fill="#a4a4a4"/>
<rect x="581" y="349.0" width="1" height="15.2" fill="#a8a8a8"/>
<rect x="580.7" y="349.9" width="1.7" height="10.9" fill="#a4a4a4"/>
<rect x="583" y="344.4" width="1" height="10.6" fill="#a8a8a8"/>
<rect x="582.7" y="345.6" width="1.7" height="7.8" fill="#a4a4a4"/>
<rect x="583" y="349.0" width="1" height="3.0" fill="#a8a8a8"/>
<rect x="582.7" y="349.7" width="1.7" height="1.6" fill="#1f74ec"/>
<rect x="588" y="352.8" width="1" height="3.8" fill="#a8a8a8"/>
<rect x="587.7" y="353.3" width="1.7" height="2.9" fill="#1f74ec"/>
<rect x="590" y="344.4" width="1" height="13.7" fill="#a8a8a8"/>
<rect x="589.7" y="345.9" width="1.7" height="9.0" fill="#a4a4a4"/>
<rect x="592" y="354.3" width="1" height="8.4" fill="#a8a8a8"/>
<rect x="591.7" y="356.2" width="1.7" height="5.7" fill="#1f74ec"/>
<rect x="595" y="356.6" width="1" height="10.7" fill="#a8a8a8"/>
<rect x="594.7" y="358.9" width="1.7" height="7.1" fill="#a4a4a4"/>
<rect x="596" y="359.7" width="1" height="8.3" fill="#a8a8a8"/>
<rect x="595.7" y="360.9" width="1.7" height="6.4" fill="#1f74ec"/>
<rect x="602" y="353.5" width="1" height="4.6" fill="#a8a8a8"/>
<rect x="601.7" y="354.5" width="1.7" height="2.4" fill="#1f74ec"/>
<rect x="603" y="344.4" width="1" height="13.7" fill="#a8a8a8"/>
<rect x="602.7" y="345.6" width="1.7" height="10.0" fill="#a4a4a4"/>
<rect x="606" y="280.0" width="1" height="100.0" fill="#b0b0b0"/>
<rect x="605.4" y="280.0" width="2.4" height="38" fill="#909090" stroke="#c8c8c8" stroke-width="0.7"/>
<rect x="612" y="245.6" width="1" height="30.6" fill="#a8a8a8"/>
<rect x="611.7" y="248.3" width="1.7" height="21.0" fill="#a4a4a4"/>
<rect x="614" y="257.8" width="1" height="7.7" fill="#a8a8a8"/>
<rect x="613.7" y="258.3" width="1.7" height="6.7" fill="#1f74ec"/>
<rect x="616" y="263.2" width="1" height="3.8" fill="#a8a8a8"/>
<rect x="615.7" y="263.9" width="1.7" height="2.6" fill="#a4a4a4"/>
<rect x="618" y="245.6" width="1" height="27.5" fill="#a8a8a8"/>
<rect x="617.7" y="251.9" width="1.7" height="15.0" fill="#a4a4a4"/>
<rect x="620" y="231.8" width="1" height="23.0" fill="#a8a8a8"/>
<rect x="619.7" y="236.2" width="1.7" height="16.8" fill="#a4a4a4"/>
<rect x="625" y="233.4" width="1" height="9.1" fill="#a8a8a8"/>
<rect x="624.7" y="235.1" width="1.7" height="5.2" fill="#1f74ec"/>
<rect x="628" y="238.0" width="1" height="9.1" fill="#a8a8a8"/>
<rect x="627.7" y="239.3" width="1.7" height="7.2" fill="#a4a4a4"/>
<rect x="630" y="219.6" width="1" height="24.4" fill="#a8a8a8"/>
<rect x="629.7" y="221.9" width="1.7" height="19.4" fill="#a4a4a4"/>
<rect x="630" y="227.2" width="1" height="6.2" fill="#a8a8a8"/>
<rect x="629.7" y="228.4" width="1.7" height="4.5" fill="#1f74ec"/>
<rect x="637" y="236.4" width="1" height="7.6" fill="#a8a8a8"/>
<rect x="636.7" y="237.1" width="1.7" height="6.2" fill="#1f74ec"/>
<rect x="639" y="234.9" width="1" height="13.8" fill="#a8a8a8"/>
<rect x="638.7" y="237.4" width="1.7" height="8.4" fill="#1f74ec"/>
<rect x="640" y="227.2" width="1" height="21.5" fill="#a8a8a8"/>
<rect x="639.7" y="229.9" width="1.7" height="14.9" fill="#a4a4a4"/>
<rect x="642" y="209.9" width="1" height="17.1" fill="#a8a8a8"/>
<rect x="641.7" y="213.8" width="1.7" height="10.3" fill="#a4a4a4"/>
<rect x="643" y="203.0" width="1" height="8.6" fill="#a8a8a8"/>
<rect x="642.7" y="203.8" width="1.7" height="6.8" fill="#1f74ec"/>
<rect x="644" y="205.2" width="1" height="10.3" fill="#a8a8a8"/>
<rect x="643.7" y="207.6" width="1.7" height="6.0" fill="#a4a4a4"/>
<rect x="649" y="223.6" width="1" height="12.1" fill="#a8a8a8"/>
<rect x="648.7" y="224.9" width="1.7" height="8.7" fill="#a4a4a4"/>
<rect x="650" y="223.6" width="1" height="6.9" fill="#a8a8a8"/>
<rect x="649.7" y="224.1" width="1.7" height="4.7" fill="#a4a4a4"/>
<rect x="652" y="223.6" width="1" height="13.8" fill="#a8a8a8"/>
<rect x="651.7" y="225.5" width="1.7" height="9.7" fill="#1f74ec"/>
<rect x="655" y="216.8" width="1" height="18.9" fill="#a8a8a8"/>
<rect x="654.7" y="219.8" width="1.7" height="14.8" fill="#a4a4a4"/>
<rect x="656" y="204.7" width="1" height="15.5" fill="#a8a8a8"/>
<rect x="655.7" y="207.3" width="1.7" height="11.2" fill="#a4a4a4"/>
<rect x="659" y="204.7" width="1" height="6.9" fill="#a8a8a8"/>
<rect x="658.7" y="205.4" width="1.7" height="4.8" fill="#a4a4a4"/>
<rect x="662" y="201.3" width="1" height="5.1" fill="#a8a8a8"/>
<rect x="661.7" y="201.6" width="1.7" height="4.2" fill="#1f74ec"/>
<rect x="664" y="182.4" width="1" height="34.4" fill="#a8a8a8"/>
<rect x="663.7" y="189.3" width="1.7" height="24.1" fill="#a4a4a4"/>
<rect x="666" y="177.2" width="1" height="34.4" fill="#a8a8a8"/>
<rect x="665.7" y="180.8" width="1.7" height="25.3" fill="#a4a4a4"/>
<rect x="668" y="166.9" width="1" height="15.5" fill="#a8a8a8"/>
<rect x="667.7" y="168.3" width="1.7" height="10.6" fill="#a4a4a4"/>
<rect x="669" y="177.2" width="1" height="10.3" fill="#a8a8a8"/>
<rect x="668.7" y="179.7" width="1.7" height="7.2" fill="#1f74ec"/>
<rect x="671" y="180.6" width="1" height="12.1" fill="#a8a8a8"/>
<rect x="670.7" y="182.3" width="1.7" height="8.0" fill="#1f74ec"/>
<rect x="673" y="178.9" width="1" height="10.3" fill="#a8a8a8"/>
<rect x="672.7" y="180.2" width="1.7" height="6.6" fill="#a4a4a4"/>
<rect x="674" y="184.0" width="1" height="8.7" fill="#a8a8a8"/>
<rect x="673.7" y="185.3" width="1.7" height="6.6" fill="#1f74ec"/>
<rect x="676" y="184.0" width="1" height="8.7" fill="#a8a8a8"/>
<rect x="675.7" y="185.4" width="1.7" height="5.7" fill="#a4a4a4"/>
<rect x="678" y="187.5" width="1" height="5.2" fill="#a8a8a8"/>
<rect x="677.7" y="188.1" width="1.7" height="3.6" fill="#1f74ec"/>
<rect x="680" y="184.0" width="1" height="7.0" fill="#a8a8a8"/>
<rect x="679.7" y="185.4" width="1.7" height="4.5" fill="#a4a4a4"/>
<rect x="682" y="182.4" width="1" height="15.4" fill="#a8a8a8"/>
<rect x="681.7" y="184.7" width="1.7" height="9.7" fill="#1f74ec"/>
<rect x="684" y="196.1" width="1" height="8.6" fill="#a8a8a8"/>
<rect x="683.7" y="197.7" width="1.7" height="5.7" fill="#a4a4a4"/>
<rect x="686" y="201.3" width="1" height="13.7" fill="#a8a8a8"/>
<rect x="685.7" y="204.6" width="1.7" height="9.2" fill="#1f74ec"/>
<rect x="688" y="203.0" width="1" height="12.0" fill="#a8a8a8"/>
<rect x="687.5" y="205.5" width="2" height="8.5" fill="#a0a0a0"/>
<rect x="692" y="215.0" width="1" height="20.7" fill="#a8a8a8"/>
<rect x="691.7" y="218.6" width="1.7" height="15.1" fill="#1f74ec"/>
<rect x="694" y="216.8" width="1" height="22.3" fill="#a8a8a8"/>
<rect x="693.5" y="219.9" width="2" height="14.7" fill="#a0a0a0"/>
<rect x="697" y="225.4" width="1" height="5.1" fill="#a8a8a8"/>
<rect x="696.7" y="226.5" width="1.7" height="3.0" fill="#1f74ec"/>
<rect x="699" y="225.4" width="1" height="15.4" fill="#a8a8a8"/>
<rect x="698.5" y="226.9" width="2" height="11.6" fill="#a0a0a0"/>
<rect x="702" y="223.5" width="1" height="19.9" fill="#a8a8a8"/>
<rect x="701.5" y="225.4" width="2" height="14.7" fill="#a0a0a0"/>
<rect x="704" y="228.0" width="1" height="12.3" fill="#a8a8a8"/>
<rect x="703.7" y="229.8" width="1.7" height="9.8" fill="#1f74ec"/>
<rect x="706" y="214.3" width="1" height="18.4" fill="#a8a8a8"/>
<rect x="705.5" y="217.4" width="2" height="11.7" fill="#a0a0a0"/>
<rect x="708" y="200.6" width="1" height="15.3" fill="#a8a8a8"/>
<rect x="707.5" y="203.1" width="2" height="9.3" fill="#a0a0a0"/>
<rect x="710" y="196.7" width="1" height="23.7" fill="#a8a8a8"/>
<rect x="709.5" y="198.7" width="2" height="19.8" fill="#a0a0a0"/>
<rect x="712" y="214.3" width="1" height="10.7" fill="#a8a8a8"/>
<rect x="711.7" y="214.9" width="1.7" height="8.5" fill="#1f74ec"/>
<rect x="714" y="208.2" width="1" height="4.6" fill="#a8a8a8"/>
<rect x="713.5" y="208.8" width="2" height="3.3" fill="#a0a0a0"/>
<rect x="715" y="191.4" width="1" height="16.8" fill="#a8a8a8"/>
<rect x="714.5" y="193.1" width="2" height="11.6" fill="#a0a0a0"/>
<rect x="718" y="186.8" width="1" height="10.7" fill="#a8a8a8"/>
<rect x="717.5" y="187.5" width="2" height="7.5" fill="#a0a0a0"/>
<rect x="719" y="197.5" width="1" height="6.1" fill="#a8a8a8"/>
<rect x="718.7" y="198.5" width="1.7" height="4.1" fill="#1f74ec"/>
<rect x="721" y="200.6" width="1" height="7.6" fill="#a8a8a8"/>
<rect x="720.5" y="202.2" width="2" height="5.3" fill="#a0a0a0"/>
<rect x="723" y="200.6" width="1" height="10.7" fill="#a8a8a8"/>
<rect x="722.7" y="201.4" width="1.7" height="8.7" fill="#1f74ec"/>
<rect x="725" y="196.0" width="1" height="16.8" fill="#a8a8a8"/>
<rect x="724.5" y="197.0" width="2" height="13.9" fill="#a0a0a0"/>
<rect x="728" y="205.2" width="1" height="6.1" fill="#a8a8a8"/>
<rect x="727.7" y="206.3" width="1.7" height="4.1" fill="#1f74ec"/>
<rect x="730" y="205.2" width="1" height="10.7" fill="#a8a8a8"/>
<rect x="729.7" y="206.3" width="1.7" height="7.8" fill="#1f74ec"/>
<rect x="732" y="215.9" width="1" height="21.3" fill="#a8a8a8"/>
<rect x="731.7" y="217.3" width="1.7" height="15.3" fill="#1f74ec"/>
<rect x="734" y="220.4" width="1" height="19.9" fill="#a8a8a8"/>
<rect x="733.5" y="222.1" width="2" height="16.2" fill="#a0a0a0"/>
<rect x="737" y="215.9" width="1" height="7.6" fill="#a8a8a8"/>
<rect x="736.5" y="216.5" width="2" height="5.5" fill="#a0a0a0"/>
<rect x="740" y="205.2" width="1" height="12.2" fill="#a8a8a8"/>
<rect x="739.5" y="207.8" width="2" height="7.0" fill="#a0a0a0"/>
<rect x="742" y="194.5" width="1" height="15.2" fill="#a8a8a8"/>
<rect x="741.5" y="195.4" width="2" height="12.2" fill="#a0a0a0"/>
<rect x="744" y="200.6" width="1" height="13.7" fill="#a8a8a8"/>
<rect x="743.7" y="202.3" width="1.7" height="10.7" fill="#1f74ec"/>
<rect x="747" y="209.7" width="1" height="10.7" fill="#a8a8a8"/>
<rect x="746.7" y="212.3" width="1.7" height="7.5" fill="#1f74ec"/>
<rect x="748" y="211.3" width="1" height="6.1" fill="#a8a8a8"/>
<rect x="747.5" y="212.2" width="2" height="4.0" fill="#a0a0a0"/>
<rect x="750" y="215.9" width="1" height="9.1" fill="#a8a8a8"/>
<rect x="749.7" y="218.1" width="1.7" height="6.1" fill="#1f74ec"/>
<rect x="754" y="226.5" width="1" height="16.9" fill="#a8a8a8"/>
<rect x="753.7" y="228.9" width="1.7" height="11.2" fill="#1f74ec"/>
<rect x="756" y="225.0" width="1" height="16.8" fill="#a8a8a8"/>
<rect x="755.5" y="226.0" width="2" height="14.2" fill="#a0a0a0"/>
<rect x="758" y="222.0" width="1" height="6.0" fill="#a8a8a8"/>
<rect x="757.5" y="223.4" width="2" height="4.2" fill="#a0a0a0"/>
<rect x="760" y="205.2" width="1" height="16.8" fill="#a8a8a8"/>
<rect x="759.5" y="207.4" width="2" height="12.8" fill="#a0a0a0"/>
<rect x="762" y="199.0" width="1" height="9.2" fill="#a8a8a8"/>
<rect x="761.5" y="200.2" width="2" height="7.4" fill="#a0a0a0"/>
<rect x="764" y="197.5" width="1" height="7.7" fill="#a8a8a8"/>
<rect x="763.7" y="197.9" width="1.7" height="5.3" fill="#1f74ec"/>
<rect x="766" y="192.9" width="1" height="16.0" fill="#a8a8a8"/>
<rect x="765.5" y="196.1" width="2" height="9.6" fill="#a0a0a0"/>
<rect x="768" y="186.0" width="1" height="12.2" fill="#a8a8a8"/>
<rect x="767.5" y="187.2" width="2" height="9.8" fill="#a0a0a0"/>
<rect x="770" y="175.3" width="1" height="12.2" fill="#a8a8a8"/>
<rect x="769.5" y="177.3" width="2" height="9.0" fill="#a0a0a0"/>
<rect x="771" y="173.8" width="1" height="9.1" fill="#a8a8a8"/>
<rect x="770.5" y="175.1" width="2" height="5.7" fill="#a0a0a0"/>
<rect x="773" y="170.7" width="1" height="9.2" fill="#a8a8a8"/>
<rect x="772.7" y="171.8" width="1.7" height="7.0" fill="#1f74ec"/>
<rect x="774" y="169.9" width="1" height="11.5" fill="#a8a8a8"/>
<rect x="773.5" y="172.7" width="2" height="6.7" fill="#a0a0a0"/>
<rect x="776" y="170.7" width="1" height="6.1" fill="#a8a8a8"/>
<rect x="775.5" y="171.1" width="2" height="4.9" fill="#a0a0a0"/>
<rect x="777" y="176.8" width="1" height="24.5" fill="#a8a8a8"/>
<rect x="776.7" y="181.2" width="1.7" height="18.6" fill="#1f74ec"/>
<rect x="780" y="190.6" width="1" height="10.7" fill="#a8a8a8"/>
<rect x="779.5" y="191.9" width="2" height="7.4" fill="#a0a0a0"/>
<rect x="781" y="190.6" width="1" height="12.2" fill="#a8a8a8"/>
<rect x="780.7" y="193.3" width="1.7" height="7.4" fill="#1f74ec"/>
<rect x="783" y="196.7" width="1" height="9.2" fill="#a8a8a8"/>
<rect x="782.5" y="198.8" width="2" height="5.8" fill="#a0a0a0"/>
<rect x="785" y="199.7" width="1" height="10.7" fill="#a8a8a8"/>
<rect x="784.7" y="201.1" width="1.7" height="7.0" fill="#1f74ec"/>
<rect x="786" y="204.3" width="1" height="15.3" fill="#a8a8a8"/>
<rect x="785.7" y="206.2" width="1.7" height="10.2" fill="#1f74ec"/>
<rect x="788" y="215.0" width="1" height="12.2" fill="#a8a8a8"/>
<rect x="787.5" y="216.1" width="2" height="9.6" fill="#a0a0a0"/>
<rect x="790" y="215.0" width="1" height="7.7" fill="#a8a8a8"/>
<rect x="789.5" y="215.7" width="2" height="5.8" fill="#a0a0a0"/>
<rect x="792" y="221.1" width="1" height="10.7" fill="#a8a8a8"/>
<rect x="791.5" y="222.0" width="2" height="8.8" fill="#a0a0a0"/>
<rect x="795" y="218.0" width="1" height="9.2" fill="#a8a8a8"/>
<rect x="794.7" y="218.9" width="1.7" height="7.0" fill="#1f74ec"/>
<rect x="796" y="216.5" width="1" height="12.3" fill="#a8a8a8"/>
<rect x="795.5" y="217.9" width="2" height="9.2" fill="#a0a0a0"/>
<rect x="799" y="216.5" width="1" height="9.2" fill="#a8a8a8"/>
<rect x="798.5" y="218.8" width="2" height="5.2" fill="#a0a0a0"/>
<rect x="802" y="223.8" width="1" height="18.3" fill="#a8a8a8"/>
<rect x="801.7" y="227.9" width="1.7" height="12.6" fill="#1f74ec"/>
<rect x="804" y="231.4" width="1" height="10.7" fill="#a8a8a8"/>
<rect x="803.5" y="232.8" width="2" height="8.7" fill="#a0a0a0"/>
<rect x="806" y="232.9" width="1" height="6.1" fill="#a8a8a8"/>
<rect x="805.7" y="234.0" width="1.7" height="4.2" fill="#1f74ec"/>
<rect x="807" y="229.9" width="1" height="10.7" fill="#a8a8a8"/>
<rect x="806.5" y="231.0" width="2" height="9.0" fill="#a0a0a0"/>
<rect x="809" y="226.8" width="1" height="26.0" fill="#a8a8a8"/>
<rect x="808.5" y="229.0" width="2" height="21.1" fill="#a0a0a0"/>
<rect x="810" y="225.3" width="1" height="7.6" fill="#a8a8a8"/>
<rect x="809.5" y="226.3" width="2" height="4.8" fill="#a0a0a0"/>
<rect x="812" y="232.9" width="1" height="12.3" fill="#a8a8a8"/>
<rect x="811.7" y="235.3" width="1.7" height="8.6" fill="#1f74ec"/>
<rect x="813" y="242.1" width="1" height="9.2" fill="#a8a8a8"/>
<rect x="812.5" y="243.2" width="2" height="7.3" fill="#a0a0a0"/>
<rect x="814" y="245.2" width="1" height="15.2" fill="#a8a8a8"/>
<rect x="813.7" y="248.8" width="1.7" height="9.7" fill="#1f74ec"/>
<rect x="816" y="252.8" width="1" height="9.2" fill="#a8a8a8"/>
<rect x="815.5" y="254.7" width="2" height="5.5" fill="#a0a0a0"/>
<rect x="818" y="255.9" width="1" height="12.2" fill="#a8a8a8"/>
<rect x="817.5" y="258.7" width="2" height="8.7" fill="#a0a0a0"/>
<rect x="820" y="255.9" width="1" height="21.3" fill="#a8a8a8"/>
<rect x="819.7" y="258.3" width="1.7" height="16.2" fill="#1f74ec"/>
<rect x="822" y="262.0" width="1" height="12.2" fill="#a8a8a8"/>
<rect x="821.5" y="262.8" width="2" height="8.6" fill="#a0a0a0"/>
<rect x="823" y="262.0" width="1" height="7.6" fill="#a8a8a8"/>
<rect x="822.5" y="262.9" width="2" height="5.2" fill="#a0a0a0"/>
<rect x="826" y="257.4" width="1" height="9.1" fill="#a8a8a8"/>
<rect x="825.5" y="258.8" width="2" height="7.1" fill="#a0a0a0"/>
<rect x="827" y="240.6" width="1" height="13.7" fill="#a8a8a8"/>
<rect x="826.7" y="242.4" width="1.7" height="10.6" fill="#1f74ec"/>
<rect x="829" y="237.5" width="1" height="15.3" fill="#a8a8a8"/>
<rect x="828.5" y="238.4" width="2" height="13.2" fill="#a0a0a0"/>
<rect x="831" y="236.0" width="1" height="12.2" fill="#a8a8a8"/>
<rect x="830.7" y="238.1" width="1.7" height="9.4" fill="#1f74ec"/>
<rect x="834" y="239.0" width="1" height="12.3" fill="#a8a8a8"/>
<rect x="833.7" y="240.4" width="1.7" height="9.3" fill="#1f74ec"/>
<rect x="836" y="237.5" width="1" height="13.8" fill="#a8a8a8"/>
<rect x="835.5" y="239.7" width="2" height="10.5" fill="#a0a0a0"/>
<rect x="838" y="239.0" width="1" height="10.7" fill="#a8a8a8"/>
<rect x="837.5" y="241.0" width="2" height="7.6" fill="#a0a0a0"/>
<rect x="840" y="237.5" width="1" height="12.2" fill="#a8a8a8"/>
<rect x="839.7" y="239.9" width="1.7" height="7.6" fill="#1f74ec"/>
<rect x="842" y="228.3" width="1" height="12.3" fill="#a8a8a8"/>
<rect x="841.5" y="229.3" width="2" height="10.2" fill="#a0a0a0"/>
<rect x="845" y="225.3" width="1" height="9.2" fill="#a8a8a8"/>
<rect x="844.5" y="226.3" width="2" height="6.5" fill="#a0a0a0"/>
<rect x="847" y="222.2" width="1" height="7.7" fill="#a8a8a8"/>
<rect x="846.5" y="223.2" width="2" height="5.7" fill="#a0a0a0"/>
<rect x="849" y="219.2" width="1" height="6.1" fill="#a8a8a8"/>
<rect x="848.5" y="220.6" width="2" height="4.2" fill="#a0a0a0"/>
<rect x="851" y="219.2" width="1" height="7.6" fill="#a8a8a8"/>
<rect x="850.5" y="220.0" width="2" height="5.9" fill="#a0a0a0"/>
<rect x="852" y="223.8" width="1" height="16.8" fill="#a8a8a8"/>
<rect x="851.7" y="225.4" width="1.7" height="14.3" fill="#1f74ec"/>
<rect x="855" y="232.9" width="1" height="7.7" fill="#a8a8a8"/>
<rect x="854.5" y="233.3" width="2" height="5.9" fill="#a0a0a0"/>
<rect x="857" y="231.4" width="1" height="9.2" fill="#a8a8a8"/>
<rect x="856.7" y="232.9" width="1.7" height="5.8" fill="#1f74ec"/>
<rect x="858" y="245.2" width="1" height="19.8" fill="#a8a8a8"/>
<rect x="857.7" y="250.1" width="1.7" height="12.8" fill="#1f74ec"/>
<rect x="860" y="258.5" width="1" height="14.5" fill="#a8a8a8"/>
<rect x="859.5" y="261.2" width="2" height="8.4" fill="#a0a0a0"/>
<rect x="862" y="257.4" width="1" height="6.1" fill="#a8a8a8"/>
<rect x="861.5" y="258.0" width="2" height="4.4" fill="#a0a0a0"/>
<rect x="864" y="254.3" width="1" height="8.3" fill="#a8a8a8"/>
<rect x="863.5" y="255.8" width="2" height="4.8" fill="#a0a0a0"/>
<rect x="865" y="250.6" width="1" height="12.2" fill="#a8a8a8"/>
<rect x="864.5" y="253.3" width="2" height="8.3" fill="#a0a0a0"/>
<rect x="867" y="247.5" width="1" height="7.7" fill="#a8a8a8"/>
<rect x="866.5" y="248.9" width="2" height="5.8" fill="#a0a0a0"/>
<rect x="868" y="249.0" width="1" height="10.7" fill="#a8a8a8"/>
<rect x="867.7" y="250.5" width="1.7" height="7.9" fill="#1f74ec"/>
<rect x="870" y="255.2" width="1" height="6.1" fill="#a8a8a8"/>
<rect x="869.5" y="255.6" width="2" height="4.9" fill="#a0a0a0"/>
<rect x="872" y="256.7" width="1" height="6.1" fill="#a8a8a8"/>
<rect x="871.5" y="257.4" width="2" height="4.5" fill="#a0a0a0"/>
<rect x="873" y="258.2" width="1" height="9.2" fill="#a8a8a8"/>
<rect x="872.7" y="259.2" width="1.7" height="7.5" fill="#1f74ec"/>
<rect x="875" y="262.8" width="1" height="7.6" fill="#a8a8a8"/>
<rect x="874.5" y="263.8" width="2" height="5.5" fill="#a0a0a0"/>
<rect x="878" y="261.3" width="1" height="6.1" fill="#a8a8a8"/>
<rect x="877.5" y="261.8" width="2" height="4.5" fill="#a0a0a0"/>
<rect x="879" y="264.3" width="1" height="16.8" fill="#a8a8a8"/>
<rect x="878.7" y="265.9" width="1.7" height="14.0" fill="#1f74ec"/>
<rect x="881" y="272.0" width="1" height="10.7" fill="#a8a8a8"/>
<rect x="880.7" y="273.3" width="1.7" height="8.0" fill="#1f74ec"/>
<rect x="883" y="273.5" width="1" height="10.7" fill="#a8a8a8"/>
<rect x="882.5" y="274.4" width="2" height="8.1" fill="#a0a0a0"/>
<rect x="884" y="275.0" width="1" height="4.6" fill="#a8a8a8"/>
<rect x="883.7" y="275.9" width="1.7" height="3.0" fill="#1f74ec"/>
<rect x="887" y="264.3" width="1" height="12.2" fill="#a8a8a8"/>
<rect x="886.5" y="266.6" width="2" height="9.2" fill="#a0a0a0"/>
<rect x="889" y="262.8" width="1" height="12.2" fill="#a8a8a8"/>
<rect x="888.5" y="264.4" width="2" height="9.1" fill="#a0a0a0"/>
<rect x="891" y="264.3" width="1" height="7.7" fill="#a8a8a8"/>
<rect x="890.5" y="264.8" width="2" height="6.2" fill="#a0a0a0"/>
<rect x="893" y="265.9" width="1" height="25.9" fill="#a8a8a8"/>
<rect x="892.7" y="267.5" width="1.7" height="20.5" fill="#1f74ec"/>
<rect x="895" y="273.5" width="1" height="12.2" fill="#a8a8a8"/>
<rect x="894.5" y="275.5" width="2" height="8.4" fill="#a0a0a0"/>
<rect x="897" y="275.0" width="1" height="6.1" fill="#a8a8a8"/>
<rect x="896.7" y="275.7" width="1.7" height="4.8" fill="#1f74ec"/>
<rect x="898" y="270.4" width="1" height="12.3" fill="#a8a8a8"/>
<rect x="897.5" y="271.1" width="2" height="10.2" fill="#a0a0a0"/>
<rect x="900" y="270.4" width="1" height="9.2" fill="#a8a8a8"/>
<rect x="899.7" y="272.5" width="1.7" height="5.6" fill="#1f74ec"/>
<rect x="903" y="276.5" width="1" height="4.6" fill="#a8a8a8"/>
<rect x="902.5" y="277.0" width="2" height="3.3" fill="#a0a0a0"/>
<rect x="905" y="278.1" width="1" height="4.6" fill="#a8a8a8"/>
<rect x="904.7" y="278.5" width="1.7" height="3.5" fill="#1f74ec"/>
<rect x="907" y="279.6" width="1" height="7.6" fill="#a8a8a8"/>
<rect x="906.7" y="280.9" width="1.7" height="4.5" fill="#1f74ec"/>
<rect x="910" y="273.5" width="1" height="10.7" fill="#a8a8a8"/>
<rect x="909.5" y="274.8" width="2" height="7.6" fill="#a0a0a0"/>
<rect x="911" y="262.8" width="1" height="10.7" fill="#a8a8a8"/>
<rect x="910.5" y="265.4" width="2" height="6.0" fill="#a0a0a0"/>
<rect x="913" y="250.6" width="1" height="12.2" fill="#a8a8a8"/>
<rect x="912.5" y="252.7" width="2" height="7.9" fill="#a0a0a0"/>
<rect x="914" y="244.5" width="1" height="10.7" fill="#a8a8a8"/>
<rect x="913.5" y="245.9" width="2" height="7.9" fill="#a0a0a0"/>
<rect x="916" y="233.8" width="1" height="10.7" fill="#a8a8a8"/>
<rect x="915.5" y="234.9" width="2" height="7.3" fill="#a0a0a0"/>
<rect x="919" y="232.2" width="1" height="9.2" fill="#a8a8a8"/>
<rect x="918.7" y="234.3" width="1.7" height="6.0" fill="#1f74ec"/>
<rect x="920" y="229.2" width="1" height="9.1" fill="#a8a8a8"/>
<rect x="919.5" y="231.3" width="2" height="6.5" fill="#a0a0a0"/>
<rect x="922" y="224.6" width="1" height="7.6" fill="#a8a8a8"/>
<rect x="921.5" y="225.2" width="2" height="5.9" fill="#a0a0a0"/>
<rect x="924" y="224.6" width="1" height="6.1" fill="#a8a8a8"/>
<rect x="923.7" y="225.3" width="1.7" height="4.7" fill="#1f74ec"/>
<rect x="926" y="225.0" width="1" height="8.5" fill="#a8a8a8"/>
<rect x="925.7" y="227.1" width="1.7" height="5.7" fill="#1f74ec"/>
<rect x="928" y="231.8" width="1" height="11.2" fill="#a8a8a8"/>
<rect x="927.7" y="232.8" width="1.7" height="9.1" fill="#1f74ec"/>
<rect x="930" y="233.3" width="1" height="12.3" fill="#a8a8a8"/>
<rect x="929.5" y="235.6" width="2" height="8.8" fill="#a0a0a0"/>
<rect x="932" y="234.9" width="1" height="7.6" fill="#a8a8a8"/>
<rect x="931.7" y="235.3" width="1.7" height="6.0" fill="#1f74ec"/>
<rect x="933" y="237.9" width="1" height="10.7" fill="#a8a8a8"/>
<rect x="932.5" y="239.3" width="2" height="8.3" fill="#a0a0a0"/>
<rect x="936" y="242.5" width="1" height="12.2" fill="#a8a8a8"/>
<rect x="935.7" y="244.3" width="1.7" height="8.2" fill="#1f74ec"/>
<rect x="938" y="250.2" width="1" height="9.1" fill="#a8a8a8"/>
<rect x="937.5" y="251.7" width="2" height="6.1" fill="#a0a0a0"/>
<rect x="940" y="253.2" width="1" height="7.6" fill="#a8a8a8"/>
<rect x="939.7" y="254.4" width="1.7" height="4.7" fill="#1f74ec"/>
<rect x="942" y="256.3" width="1" height="7.6" fill="#a8a8a8"/>
<rect x="941.5" y="258.2" width="2" height="4.9" fill="#a0a0a0"/>
<rect x="944" y="254.7" width="1" height="6.1" fill="#a8a8a8"/>
<rect x="943.5" y="255.4" width="2" height="4.0" fill="#a0a0a0"/>
<rect x="945" y="237.2" width="1" height="16.0" fill="#a8a8a8"/>
<rect x="944.5" y="239.0" width="2" height="11.1" fill="#a0a0a0"/>
<rect x="947" y="237.9" width="1" height="12.3" fill="#a8a8a8"/>
<rect x="946.7" y="240.2" width="1.7" height="7.7" fill="#1f74ec"/>
<rect x="950" y="237.2" width="1" height="11.4" fill="#a8a8a8"/>
<rect x="949.5" y="240.0" width="2" height="6.2" fill="#a0a0a0"/>
<rect x="951" y="237.9" width="1" height="12.3" fill="#a8a8a8"/>
<rect x="950.7" y="238.9" width="1.7" height="9.1" fill="#1f74ec"/>
<rect x="953" y="245.6" width="1" height="10.7" fill="#a8a8a8"/>
<rect x="952.7" y="247.2" width="1.7" height="7.4" fill="#1f74ec"/>
<rect x="956" y="250.2" width="1" height="7.6" fill="#a8a8a8"/>
<rect x="955.5" y="251.1" width="2" height="5.8" fill="#a0a0a0"/>
<rect x="957" y="253.2" width="1" height="10.7" fill="#a8a8a8"/>
<rect x="956.7" y="255.3" width="1.7" height="6.9" fill="#1f74ec"/>
<rect x="959" y="250.2" width="1" height="9.1" fill="#a8a8a8"/>
<rect x="958.5" y="251.1" width="2" height="7.3" fill="#a0a0a0"/>
<rect x="961" y="250.2" width="1" height="7.6" fill="#a8a8a8"/>
<rect x="960.7" y="251.1" width="1.7" height="6.1" fill="#1f74ec"/>
<rect x="962" y="248.6" width="1" height="7.7" fill="#a8a8a8"/>
<rect x="961.5" y="249.8" width="2" height="5.9" fill="#a0a0a0"/>
<rect x="966" y="254.7" width="1" height="12.3" fill="#a8a8a8"/>
<rect x="965.7" y="255.5" width="1.7" height="10.7" fill="#1f74ec"/>
<rect x="969" y="263.9" width="1" height="9.2" fill="#a8a8a8"/>
<rect x="968.7" y="264.5" width="1.7" height="6.8" fill="#1f74ec"/>
<rect x="970" y="263.9" width="1" height="6.1" fill="#a8a8a8"/>
<rect x="969.5" y="264.3" width="2" height="4.8" fill="#a0a0a0"/>
<rect x="972" y="253.2" width="1" height="9.2" fill="#a8a8a8"/>
<rect x="971.5" y="255.1" width="2" height="6.0" fill="#a0a0a0"/>
<rect x="973" y="250.2" width="1" height="9.1" fill="#a8a8a8"/>
<rect x="972.5" y="251.0" width="2" height="6.3" fill="#a0a0a0"/>
<rect x="975" y="259.3" width="1" height="13.8" fill="#a8a8a8"/>
<rect x="974.7" y="262.4" width="1.7" height="9.9" fill="#1f74ec"/>
<rect x="978" y="265.4" width="1" height="12.3" fill="#a8a8a8"/>
<rect x="977.7" y="266.6" width="1.7" height="9.2" fill="#1f74ec"/>
<rect x="981" y="263.9" width="1" height="12.2" fill="#a8a8a8"/>
<rect x="980.5" y="266.5" width="2" height="8.1" fill="#a0a0a0"/>
<rect x="983" y="267.0" width="1" height="10.7" fill="#a8a8a8"/>
<rect x="982.7" y="269.1" width="1.7" height="7.6" fill="#1f74ec"/>
<rect x="986" y="270.0" width="1" height="6.1" fill="#a8a8a8"/>
<rect x="985.5" y="271.2" width="2" height="4.2" fill="#a0a0a0"/>
<rect x="988" y="271.5" width="1" height="7.7" fill="#a8a8a8"/>
<rect x="987.7" y="272.4" width="1.7" height="5.2" fill="#1f74ec"/>
<rect x="989" y="273.5" width="1" height="5.8" fill="#a8a8a8"/>
<rect x="988.7" y="274.8" width="1.7" height="3.3" fill="#1f74ec"/>
<rect x="991" y="281.0" width="1" height="13.8" fill="#a8a8a8"/>
<rect x="990.5" y="283.3" width="2" height="9.7" fill="#a0a0a0"/>
<rect x="993" y="281.2" width="1" height="5.7" fill="#a8a8a8"/>
<rect x="992.5" y="282.3" width="2" height="3.6" fill="#a0a0a0"/>
<rect x="995" y="275.5" width="1" height="13.3" fill="#a8a8a8"/>
<rect x="994.7" y="278.4" width="1.7" height="7.6" fill="#1f74ec"/>
<rect x="996" y="277.4" width="1" height="13.4" fill="#a8a8a8"/>
<rect x="995.5" y="278.4" width="2" height="10.7" fill="#a0a0a0"/>
<rect x="998" y="285.0" width="1" height="15.3" fill="#a8a8a8"/>
<rect x="997.7" y="287.8" width="1.7" height="11.0" fill="#1f74ec"/>
<rect x="1000" y="290.8" width="1" height="11.4" fill="#a8a8a8"/>
<rect x="999.7" y="291.8" width="1.7" height="9.8" fill="#1f74ec"/>
<rect x="1002" y="294.6" width="1" height="13.4" fill="#a8a8a8"/>
<rect x="1001.5" y="296.8" width="2" height="8.0" fill="#a0a0a0"/>
<rect x="1004" y="300.3" width="1" height="9.6" fill="#a8a8a8"/>
<rect x="1003.5" y="302.6" width="2" height="6.5" fill="#a0a0a0"/>
<rect x="1006" y="285.0" width="1" height="15.3" fill="#a8a8a8"/>
<rect x="1005.5" y="287.9" width="2" height="10.4" fill="#a0a0a0"/>
<rect x="1008" y="269.7" width="1" height="15.3" fill="#a8a8a8"/>
<rect x="1007.5" y="272.4" width="2" height="10.6" fill="#a0a0a0"/>
<rect x="1010" y="267.8" width="1" height="9.6" fill="#a8a8a8"/>
<rect x="1009.5" y="270.1" width="2" height="4.9" fill="#a0a0a0"/>
<rect x="1013" y="264.0" width="1" height="9.5" fill="#a8a8a8"/>
<rect x="1012.5" y="264.6" width="2" height="7.1" fill="#a0a0a0"/>
<rect x="1016" y="259.2" width="1" height="8.6" fill="#a8a8a8"/>
<rect x="1015.5" y="259.8" width="2" height="7.5" fill="#a0a0a0"/>
<rect x="1018" y="248.7" width="1" height="15.3" fill="#a8a8a8"/>
<rect x="1017.5" y="250.3" width="2" height="10.7" fill="#a0a0a0"/>
<rect x="1021" y="252.5" width="1" height="7.7" fill="#a8a8a8"/>
<rect x="1020.7" y="254.4" width="1.7" height="5.2" fill="#1f74ec"/>
<rect x="1024" y="254.4" width="1" height="11.5" fill="#a8a8a8"/>
<rect x="1023.7" y="255.7" width="1.7" height="9.5" fill="#1f74ec"/>
<rect x="1026" y="248.7" width="1" height="15.3" fill="#a8a8a8"/>
<rect x="1025.5" y="251.1" width="2" height="10.6" fill="#a0a0a0"/>
<rect x="1028" y="239.1" width="1" height="11.5" fill="#a8a8a8"/>
<rect x="1027.5" y="240.5" width="2" height="8.8" fill="#a0a0a0"/>
<rect x="1030" y="233.4" width="1" height="11.5" fill="#a8a8a8"/>
<rect x="1029.5" y="235.8" width="2" height="6.6" fill="#a0a0a0"/>
<rect x="1033" y="229.6" width="1" height="11.4" fill="#a8a8a8"/>
<rect x="1032.5" y="230.8" width="2" height="8.7" fill="#a0a0a0"/>
<rect x="1035" y="237.2" width="1" height="3.8" fill="#a8a8a8"/>
<rect x="1034.7" y="237.9" width="1.7" height="2.4" fill="#1f74ec"/>
<rect x="1037" y="237.2" width="1" height="9.6" fill="#a8a8a8"/>
<rect x="1036.7" y="239.6" width="1.7" height="6.0" fill="#1f74ec"/>
<rect x="1038" y="231.5" width="1" height="7.6" fill="#a8a8a8"/>
<rect x="1037.5" y="232.9" width="2" height="5.0" fill="#a0a0a0"/>
<rect x="1040" y="221.9" width="1" height="15.3" fill="#a8a8a8"/>
<rect x="1039.5" y="225.1" width="2" height="10.9" fill="#a0a0a0"/>
<rect x="1043" y="231.5" width="1" height="9.5" fill="#a8a8a8"/>
<rect x="1042.5" y="232.3" width="2" height="8.0" fill="#a0a0a0"/>
<rect x="1046" y="235.5" width="1" height="13.4" fill="#a8a8a8"/>
<rect x="1045.7" y="238.7" width="1.7" height="8.9" fill="#1f74ec"/>
<rect x="1047" y="238.2" width="1" height="14.7" fill="#a8a8a8"/>
<rect x="1046.7" y="240.4" width="1.7" height="11.4" fill="#1f74ec"/>
<rect x="1049" y="242.2" width="1" height="9.4" fill="#a8a8a8"/>
<rect x="1048.5" y="243.3" width="2" height="7.8" fill="#a0a0a0"/>
<rect x="1051" y="236.8" width="1" height="10.8" fill="#a8a8a8"/>
<rect x="1050.5" y="238.6" width="2" height="8.2" fill="#a0a0a0"/>
<rect x="1053" y="234.2" width="1" height="12.0" fill="#a8a8a8"/>
<rect x="1052.5" y="236.3" width="2" height="8.6" fill="#a0a0a0"/>
<rect x="1055" y="235.5" width="1" height="6.7" fill="#a8a8a8"/>
<rect x="1054.5" y="236.1" width="2" height="5.1" fill="#a0a0a0"/>
<rect x="1057" y="224.8" width="1" height="10.7" fill="#a8a8a8"/>
<rect x="1056.7" y="226.1" width="1.7" height="8.3" fill="#1f74ec"/>
<rect x="1058" y="223.5" width="1" height="8.0" fill="#a8a8a8"/>
<rect x="1057.5" y="224.0" width="2" height="7.0" fill="#a0a0a0"/>
<rect x="1060" y="216.8" width="1" height="12.0" fill="#a8a8a8"/>
<rect x="1059.5" y="219.5" width="2" height="7.9" fill="#a0a0a0"/>
<rect x="1062" y="206.1" width="1" height="13.3" fill="#a8a8a8"/>
<rect x="1061.5" y="207.0" width="2" height="11.3" fill="#a0a0a0"/>
<rect x="1064" y="214.1" width="1" height="5.3" fill="#a8a8a8"/>
<rect x="1063.5" y="214.9" width="2" height="3.2" fill="#a0a0a0"/>
<rect x="1065" y="206.1" width="1" height="16.0" fill="#a8a8a8"/>
<rect x="1064.7" y="207.5" width="1.7" height="11.0" fill="#1f74ec"/>
<rect x="1068" y="220.8" width="1" height="9.4" fill="#a8a8a8"/>
<rect x="1067.7" y="222.2" width="1.7" height="6.8" fill="#1f74ec"/>
<rect x="1070" y="223.5" width="1" height="8.0" fill="#a8a8a8"/>
<rect x="1069.5" y="225.2" width="2" height="5.3" fill="#a0a0a0"/>
<rect x="1071" y="222.1" width="1" height="9.4" fill="#a8a8a8"/>
<rect x="1070.5" y="222.7" width="2" height="7.3" fill="#a0a0a0"/>
<rect x="1073" y="228.8" width="1" height="6.7" fill="#a8a8a8"/>
<rect x="1072.7" y="230.0" width="1.7" height="4.3" fill="#1f74ec"/>
<rect x="1074" y="231.5" width="1" height="6.7" fill="#a8a8a8"/>
<rect x="1073.5" y="232.2" width="2" height="4.4" fill="#a0a0a0"/>
<rect x="1076" y="232.8" width="1" height="9.4" fill="#a8a8a8"/>
<rect x="1075.7" y="234.9" width="1.7" height="5.0" fill="#1f74ec"/>
<rect x="1078" y="236.8" width="1" height="6.7" fill="#a8a8a8"/>
<rect x="1077.5" y="237.7" width="2" height="4.3" fill="#a0a0a0"/>
<rect x="1080" y="235.5" width="1" height="9.4" fill="#a8a8a8"/>
<rect x="1079.5" y="237.3" width="2" height="6.8" fill="#a0a0a0"/>
<rect x="1082" y="234.2" width="1" height="6.7" fill="#a8a8a8"/>
<rect x="1081.5" y="234.6" width="2" height="5.8" fill="#a0a0a0"/>
<rect x="1084" y="222.1" width="1" height="12.1" fill="#a8a8a8"/>
<rect x="1083.5" y="223.0" width="2" height="10.4" fill="#a0a0a0"/>
<rect x="1086" y="220.8" width="1" height="8.0" fill="#a8a8a8"/>
<rect x="1085.5" y="221.8" width="2" height="5.4" fill="#a0a0a0"/>
<rect x="1088" y="219.4" width="1" height="21.5" fill="#a8a8a8"/>
<rect x="1087.7" y="221.8" width="1.7" height="15.8" fill="#1f74ec"/>
<rect x="1090" y="228.8" width="1" height="12.1" fill="#a8a8a8"/>
<rect x="1089.5" y="229.4" width="2" height="10.4" fill="#a0a0a0"/>
<rect x="1092" y="228.8" width="1" height="9.4" fill="#a8a8a8"/>
<rect x="1091.5" y="231.1" width="2" height="6.6" fill="#a0a0a0"/>
<rect x="1094" y="230.2" width="1" height="6.6" fill="#a8a8a8"/>
<rect x="1093.5" y="231.2" width="2" height="4.2" fill="#a0a0a0"/>
<rect x="1096" y="230.2" width="1" height="8.0" fill="#a8a8a8"/>
<rect x="1095.7" y="231.9" width="1.7" height="4.8" fill="#1f74ec"/>
<rect x="1098" y="228.8" width="1" height="8.0" fill="#a8a8a8"/>
<rect x="1097.5" y="229.8" width="2" height="5.3" fill="#a0a0a0"/>
<rect x="1100" y="234.2" width="1" height="8.0" fill="#a8a8a8"/>
<rect x="1099.7" y="235.9" width="1.7" height="4.6" fill="#1f74ec"/>
<rect x="1103" y="235.5" width="1" height="5.4" fill="#a8a8a8"/>
<rect x="1102.5" y="236.8" width="2" height="3.7" fill="#a0a0a0"/>
<rect x="1104" y="236.8" width="1" height="6.7" fill="#a8a8a8"/>
<rect x="1103.5" y="238.4" width="2" height="4.2" fill="#a0a0a0"/>
<rect x="1106" y="223.5" width="1" height="14.5" fill="#a8a8a8"/>
<rect x="1105.5" y="226.3" width="2" height="10.3" fill="#a0a0a0"/>
<rect x="1108" y="214.5" width="1" height="20.0" fill="#a8a8a8"/>
<rect x="1107.5" y="219.1" width="2" height="14.3" fill="#a0a0a0"/>
<rect x="1110" y="219.5" width="1" height="15.0" fill="#a8a8a8"/>
<rect x="1109.7" y="222.0" width="1.7" height="11.1" fill="#1f74ec"/>
<rect x="1111" y="217.8" width="1" height="18.2" fill="#a8a8a8"/>
<rect x="1110.7" y="220.1" width="1.7" height="13.6" fill="#1f74ec"/>
<rect x="1113" y="226.5" width="1" height="11.0" fill="#a8a8a8"/>
<rect x="1112.5" y="228.5" width="2" height="6.7" fill="#a0a0a0"/>
<rect x="1113" y="227.8" width="1" height="6.9" fill="#a8a8a8"/>
<rect x="1112.7" y="228.6" width="1.7" height="4.8" fill="#1f74ec"/>
<rect x="1115" y="231.3" width="1" height="10.3" fill="#a8a8a8"/>
<rect x="1114.5" y="232.5" width="2" height="8.0" fill="#a0a0a0"/>
<rect x="1116" y="235.9" width="1" height="6.9" fill="#a8a8a8"/>
<rect x="1115.7" y="237.5" width="1.7" height="4.5" fill="#1f74ec"/>
<rect x="1117" y="229.0" width="1" height="9.2" fill="#a8a8a8"/>
<rect x="1116.5" y="229.6" width="2" height="7.5" fill="#a0a0a0"/>
<rect x="1120" y="224.4" width="1" height="6.9" fill="#a8a8a8"/>
<rect x="1119.5" y="225.8" width="2" height="4.9" fill="#a0a0a0"/>
<rect x="1122" y="222.1" width="1" height="10.3" fill="#a8a8a8"/>
<rect x="1121.5" y="224.1" width="2" height="6.6" fill="#a0a0a0"/>
<rect x="1123" y="217.5" width="1" height="11.5" fill="#a8a8a8"/>
<rect x="1122.5" y="219.6" width="2" height="8.4" fill="#a0a0a0"/>
<rect x="1124" y="217.5" width="1" height="18.4" fill="#a8a8a8"/>
<rect x="1123.7" y="218.8" width="1.7" height="15.6" fill="#1f74ec"/>
<rect x="1126" y="225.6" width="1" height="9.1" fill="#a8a8a8"/>
<rect x="1125.5" y="226.7" width="2" height="6.8" fill="#a0a0a0"/>
<rect x="1128" y="226.7" width="1" height="6.9" fill="#a8a8a8"/>
<rect x="1127.5" y="227.1" width="2" height="5.5" fill="#a0a0a0"/>
<rect x="1130" y="223.3" width="1" height="5.7" fill="#a8a8a8"/>
<rect x="1129.5" y="224.0" width="2" height="4.3" fill="#a0a0a0"/>
<rect x="1131" y="218.7" width="1" height="5.7" fill="#a8a8a8"/>
<rect x="1130.5" y="219.6" width="2" height="3.4" fill="#a0a0a0"/>
<rect x="1132" y="207.2" width="1" height="11.5" fill="#a8a8a8"/>
<rect x="1131.5" y="208.2" width="2" height="7.9" fill="#a0a0a0"/>
<rect x="1133" y="199.2" width="1" height="12.6" fill="#a8a8a8"/>
<rect x="1132.5" y="200.6" width="2" height="8.6" fill="#a0a0a0"/>
<rect x="1135" y="200.3" width="1" height="4.6" fill="#a8a8a8"/>
<rect x="1134.7" y="200.6" width="1.7" height="3.1" fill="#1f74ec"/>
<rect x="1137" y="202.6" width="1" height="2.3" fill="#a8a8a8"/>
<rect x="1136.5" y="202.9" width="2" height="1.5" fill="#a0a0a0"/></g>
<path d="M72.5 267.5 C73.8 268.1 77.6 269.6 80.5 271.0 C83.4 272.4 86.7 273.7 89.7 275.6 C92.8 277.5 95.4 279.3 98.8 282.4 C102.2 285.5 106.6 291.1 110.3 294.0 C114.0 296.9 117.5 297.9 120.8 300.0 C124.1 302.1 126.2 303.6 130.0 306.7 C133.8 309.8 139.0 315.1 143.5 318.7 C148.0 322.2 152.5 325.3 157.0 328.0 C161.5 330.7 165.9 332.6 170.3 334.8 C174.8 337.1 179.2 339.5 183.7 341.5 C188.1 343.5 192.6 345.0 197.0 346.8 C201.4 348.6 206.4 350.4 210.4 352.2 C214.4 354.0 217.7 356.3 221.0 357.5 C224.3 358.7 226.7 359.6 230.0 359.5 C233.3 359.4 236.5 357.5 241.0 356.8 C245.5 356.1 251.7 356.0 257.0 355.5 C262.3 355.0 267.7 353.8 273.0 354.0 C278.3 354.2 283.6 356.1 289.0 356.8 C294.4 357.5 300.8 357.8 305.3 358.2 C309.8 358.6 311.6 358.6 316.0 359.5 C320.4 360.4 326.7 362.2 332.0 363.5 C337.3 364.8 343.5 366.1 348.0 367.5 C352.5 368.9 355.9 370.2 358.8 371.6 C361.8 373.0 362.8 373.5 365.7 376.0 C368.6 378.5 372.8 383.9 376.4 386.8 C379.9 389.7 383.4 391.8 387.0 393.5 C390.6 395.2 394.2 395.6 397.8 397.0 C401.4 398.4 405.0 400.1 408.5 402.0 C412.0 403.9 415.4 406.4 419.0 408.5 C422.6 410.6 426.4 412.7 430.0 414.5 C433.6 416.3 437.1 418.2 440.7 419.5 C444.3 420.8 447.8 421.7 451.4 422.5 C454.9 423.3 458.4 424.0 462.0 424.5 C465.6 425.0 469.2 425.4 472.8 425.5 C476.4 425.6 479.7 425.6 483.5 425.0 C487.3 424.4 491.9 423.1 495.7 421.7 C499.5 420.3 502.8 418.0 506.4 416.4 C509.9 414.8 513.4 413.0 517.0 412.3 C520.6 411.6 524.2 412.5 527.8 412.3 C531.4 412.1 534.9 411.9 538.5 411.0 C542.1 410.1 545.6 408.3 549.2 407.0 C552.8 405.7 556.0 404.6 560.0 403.0 C564.0 401.4 568.8 399.4 573.3 397.6 C577.8 395.8 582.7 394.1 586.7 392.3 C590.7 390.5 593.9 389.7 597.4 387.0 C600.9 384.3 604.8 379.8 608.0 376.0 C611.2 372.2 613.7 368.4 616.5 364.4 C619.3 360.4 621.2 357.4 625.0 352.0 C628.8 346.6 634.4 338.8 639.4 332.0 C644.4 325.2 649.6 319.0 654.7 311.0 C659.8 303.0 664.9 292.0 670.0 284.0 C675.1 276.0 680.3 270.3 685.3 263.0 C690.3 255.7 695.8 246.8 700.0 240.0 C704.2 233.2 707.1 226.4 710.7 222.3 C714.3 218.2 717.4 217.2 721.4 215.6 C725.4 214.0 730.3 213.8 734.8 212.9 C739.3 212.0 743.7 210.4 748.2 210.2 C752.7 210.0 756.7 211.1 761.6 211.6 C766.5 212.1 772.2 213.1 777.6 212.9 C783.0 212.7 788.8 210.2 793.7 210.2 C798.6 210.2 802.5 211.6 807.0 212.9 C811.5 214.2 815.7 216.2 820.4 218.3 C825.1 220.4 829.9 224.1 835.0 225.5 C840.1 226.9 845.7 225.2 851.0 226.8 C856.3 228.4 861.6 232.0 867.0 234.9 C872.4 237.8 877.9 241.1 883.2 244.2 C888.5 247.3 893.6 251.4 899.0 253.6 C904.4 255.8 909.9 257.2 915.3 257.6 C920.7 258.1 926.0 256.1 931.4 256.3 C936.8 256.5 941.8 258.9 947.4 259.0 C953.0 259.1 959.4 257.3 965.0 257.0 C970.6 256.7 975.7 256.8 981.0 257.0 C986.3 257.2 991.6 257.4 997.0 258.3 C1002.4 259.2 1007.9 261.2 1013.2 262.3 C1018.5 263.4 1023.6 264.8 1029.0 265.0 C1034.3 265.2 1040.1 264.6 1045.3 263.7 C1050.5 262.8 1055.6 261.5 1060.0 259.9 C1064.4 258.3 1067.7 256.0 1071.5 254.1 C1075.3 252.2 1079.2 250.6 1083.0 248.4 C1086.8 246.2 1090.6 242.8 1094.4 240.7 C1098.2 238.6 1102.1 237.1 1105.9 236.0 C1109.7 234.9 1113.6 234.7 1117.4 234.0 C1121.2 233.3 1125.6 232.7 1128.8 232.1 C1132.0 231.5 1135.2 230.5 1136.5 230.2" fill="none" stroke="#9c1278" stroke-width="1.1"/><path d="M32.0 259.5 C33.6 259.9 38.8 261.2 41.5 262.0 C44.2 262.8 45.3 263.1 48.0 264.0 C50.7 264.9 54.8 266.2 57.5 267.5 C60.2 268.8 61.3 269.8 64.0 272.0 C66.7 274.2 70.5 277.5 73.6 281.0 C76.7 284.5 79.9 289.7 82.8 292.8 C85.7 295.9 88.1 296.3 90.8 299.7 C93.5 303.1 96.3 308.8 98.8 313.4 C101.3 317.9 103.4 322.8 105.7 327.0 C108.0 331.2 109.9 335.4 112.6 338.7 C115.3 342.0 118.6 343.0 122.0 346.8 C125.4 350.6 129.2 357.7 132.8 361.6 C136.4 365.5 140.0 368.9 143.5 370.0 C147.0 371.1 150.9 369.7 154.0 368.0 C157.1 366.3 158.4 362.8 162.0 360.0 C165.6 357.2 171.5 353.7 175.6 351.0 C179.7 348.3 182.8 345.8 186.4 344.0 C190.0 342.2 193.4 339.8 197.0 340.0 C200.6 340.2 204.2 343.2 207.8 345.5 C211.4 347.8 215.6 351.2 218.5 353.5 C221.4 355.8 222.1 357.6 225.0 359.5 C227.9 361.4 231.2 365.0 235.7 365.0 C240.2 365.0 247.3 360.7 251.8 359.5 C256.3 358.3 258.5 357.6 262.5 357.6 C266.5 357.6 270.5 358.9 275.9 359.5 C281.2 360.1 288.4 360.9 294.6 361.4 C300.8 361.8 308.0 361.8 313.3 362.2 C318.6 362.6 322.7 362.6 326.7 363.5 C330.7 364.4 334.3 365.2 337.4 367.5 C340.5 369.8 342.3 373.6 345.4 377.0 C348.5 380.4 352.6 382.9 356.0 387.6 C359.4 392.4 362.3 400.1 365.7 405.5 C369.1 410.9 372.8 416.4 376.4 420.0 C379.9 423.6 383.4 425.2 387.0 427.0 C390.6 428.8 394.2 429.9 397.8 431.0 C401.4 432.1 405.0 433.6 408.5 433.6 C412.0 433.6 415.4 432.6 419.0 431.0 C422.6 429.4 426.4 425.6 430.0 424.0 C433.6 422.4 437.1 421.9 440.7 421.6 C444.3 421.3 447.8 422.0 451.4 422.0 C454.9 422.0 458.4 422.4 462.0 421.6 C465.6 420.9 469.0 418.4 472.8 417.5 C476.6 416.6 481.2 417.3 485.0 416.4 C488.8 415.5 492.1 413.9 495.7 412.3 C499.3 410.7 502.8 408.8 506.4 407.0 C509.9 405.2 513.4 402.5 517.0 401.6 C520.6 400.7 524.4 401.8 527.8 401.6 C531.2 401.4 534.1 401.4 537.2 400.3 C540.3 399.2 542.8 396.6 546.6 395.0 C550.4 393.4 555.5 392.6 560.0 391.0 C564.5 389.4 569.3 388.3 573.3 385.6 C577.3 382.9 580.4 378.0 584.0 374.9 C587.6 371.8 591.6 368.9 594.7 366.8 C597.8 364.7 600.2 364.8 602.8 362.0 C605.3 359.2 607.7 355.0 610.0 350.0 C612.3 345.0 614.2 337.7 616.5 332.0 C618.8 326.3 621.5 321.5 624.0 316.0 C626.5 310.5 628.6 307.2 631.8 299.0 C635.0 290.8 639.2 277.2 643.0 267.0 C646.8 256.8 650.9 245.2 654.7 238.0 C658.5 230.8 662.1 228.5 665.7 224.0 C669.3 219.5 673.3 214.8 676.4 211.0 C679.5 207.2 681.7 203.3 684.4 201.5 C687.1 199.7 689.7 199.3 692.4 200.0 C695.1 200.7 697.5 203.1 700.5 205.5 C703.5 207.9 707.2 212.5 710.7 214.2 C714.2 215.9 717.9 215.6 721.4 215.6 C724.9 215.6 728.4 215.1 732.0 214.2 C735.6 213.3 739.2 210.0 742.8 210.2 C746.4 210.4 750.4 214.2 753.5 215.6 C756.6 216.9 758.5 218.8 761.6 218.3 C764.7 217.9 768.7 215.1 772.3 212.9 C775.9 210.7 779.4 206.7 783.0 204.9 C786.6 203.1 790.1 201.5 793.7 202.2 C797.3 202.9 800.9 205.1 804.4 208.9 C807.9 212.7 811.4 219.4 815.0 225.0 C818.6 230.6 822.7 238.5 825.8 242.3 C828.9 246.1 830.5 246.7 833.8 247.7 C837.1 248.7 841.9 249.3 845.7 248.3 C849.5 247.3 852.9 242.5 856.4 241.6 C859.9 240.7 863.4 241.8 867.0 242.9 C870.6 244.0 874.2 245.4 877.8 248.3 C881.4 251.2 885.0 256.5 888.5 260.3 C892.0 264.1 895.4 268.6 899.0 271.0 C902.6 273.4 906.4 275.4 910.0 275.0 C913.6 274.6 917.1 271.4 920.7 268.3 C924.3 265.2 927.9 259.9 931.4 256.3 C934.9 252.8 938.4 249.0 942.0 247.0 C945.6 245.0 949.2 243.5 952.8 244.2 C956.4 244.8 959.7 248.8 963.5 250.9 C967.3 253.0 971.9 254.0 975.7 257.0 C979.5 260.0 982.9 265.9 986.4 269.0 C989.9 272.1 993.4 273.9 997.0 275.7 C1000.6 277.5 1004.2 279.2 1007.8 279.7 C1011.4 280.1 1015.0 280.2 1018.5 278.4 C1022.0 276.6 1025.4 272.6 1029.0 269.0 C1032.6 265.4 1036.4 261.2 1040.0 257.0 C1043.6 252.8 1047.1 247.2 1050.7 243.6 C1054.3 240.0 1058.6 237.4 1061.4 235.6 C1064.2 233.8 1065.3 233.6 1067.6 233.0 C1069.9 232.4 1072.4 232.7 1075.3 232.1 C1078.2 231.5 1081.7 229.8 1084.9 229.3 C1088.1 228.8 1091.9 228.7 1094.4 229.3 C1096.9 229.9 1098.1 232.2 1100.0 233.0 C1101.9 233.8 1103.7 234.0 1105.9 234.0 C1108.2 234.0 1111.0 233.3 1113.5 233.0 C1116.0 232.7 1118.7 232.6 1121.2 232.1 C1123.8 231.6 1126.2 231.3 1128.8 230.2 C1131.3 229.1 1135.2 226.2 1136.5 225.4" fill="none" stroke="#1a8022" stroke-width="1.1"/>
<rect x="31" y="108.3" width="2" height="393.0" fill="#9a9a9a"/><rect x="32" y="499.7" width="1120.4" height="1.2" fill="#c8c8c8"/><rect x="1151.8" y="108.3" width="1.3" height="392.5" fill="#3cc0c4"/><path d="M27.3 131.0 L31.5 128.4 L31.5 133.6 Z" fill="#f0f0f0"/><text x="2.50" y="134.30" font-family='"Liberation Sans", sans-serif' font-weight="normal" font-size="9.30" fill="#e8e8e8" textLength="23.59" lengthAdjust="spacingAndGlyphs" style="white-space:pre">2.8000</text><path d="M27.3 177.29999999999993 L31.5 174.69999999999993 L31.5 179.89999999999992 Z" fill="#f0f0f0"/><text x="2.50" y="180.60" font-family='"Liberation Sans", sans-serif' font-weight="normal" font-size="9.30" fill="#e8e8e8" textLength="23.59" lengthAdjust="spacingAndGlyphs" style="white-space:pre">2.6000</text><path d="M27.3 223.59999999999997 L31.5 220.99999999999997 L31.5 226.19999999999996 Z" fill="#f0f0f0"/><path d="M27.3 269.8999999999999 L31.5 267.2999999999999 L31.5 272.49999999999994 Z" fill="#f0f0f0"/><text x="2.50" y="273.20" font-family='"Liberation Sans", sans-serif' font-weight="normal" font-size="9.30" fill="#e8e8e8" textLength="23.59" lengthAdjust="spacingAndGlyphs" style="white-space:pre">2.2000</text><path d="M27.3 316.19999999999993 L31.5 313.5999999999999 L31.5 318.79999999999995 Z" fill="#f0f0f0"/><text x="2.50" y="319.50" font-family='"Liberation Sans", sans-serif' font-weight="normal" font-size="9.30" fill="#e8e8e8" textLength="23.59" lengthAdjust="spacingAndGlyphs" style="white-space:pre">2.0000</text><path d="M27.3 362.4999999999999 L31.5 359.89999999999986 L31.5 365.0999999999999 Z" fill="#f0f0f0"/><text x="2.50" y="365.80" font-family='"Liberation Sans", sans-serif' font-weight="normal" font-size="9.30" fill="#e8e8e8" textLength="23.59" lengthAdjust="spacingAndGlyphs" style="white-space:pre">1.8000</text><path d="M27.3 408.7999999999999 L31.5 406.1999999999999 L31.5 411.3999999999999 Z" fill="#f0f0f0"/><text x="2.50" y="412.10" font-family='"Liberation Sans", sans-serif' font-weight="normal" font-size="9.30" fill="#e8e8e8" textLength="23.59" lengthAdjust="spacingAndGlyphs" style="white-space:pre">1.6000</text><path d="M27.3 455.09999999999997 L31.5 452.49999999999994 L31.5 457.7 Z" fill="#f0f0f0"/><text x="2.50" y="458.40" font-family='"Liberation Sans", sans-serif' font-weight="normal" font-size="9.30" fill="#e8e8e8" textLength="23.59" lengthAdjust="spacingAndGlyphs" style="white-space:pre">1.4000</text><rect x="29.5" y="153.6" width="2.5" height="1" fill="#c8c8c8"/><rect x="29.5" y="199.9" width="2.5" height="1" fill="#c8c8c8"/><rect x="29.5" y="246.2" width="2.5" height="1" fill="#c8c8c8"/><rect x="29.5" y="292.5" width="2.5" height="1" fill="#c8c8c8"/><rect x="29.5" y="338.8" width="2.5" height="1" fill="#c8c8c8"/><rect x="29.5" y="385.1" width="2.5" height="1" fill="#c8c8c8"/><rect x="29.5" y="431.4" width="2.5" height="1" fill="#c8c8c8"/><rect x="29.5" y="477.7" width="2.5" height="1" fill="#c8c8c8"/><path d="M1153 167.5 L1157 170.1 L1153 172.7 Z" fill="#3cc0c4"/><text x="1158.00" y="173.70" font-family='"Liberation Sans", sans-serif' font-weight="normal" font-size="9.30" fill="#e8e8e8" textLength="24.19" lengthAdjust="spacingAndGlyphs" style="white-space:pre">4.5000</text><path d="M1153 235.1 L1157 237.7 L1153 240.29999999999998 Z" fill="#3cc0c4"/><text x="1158.00" y="241.30" font-family='"Liberation Sans", sans-serif' font-weight="normal" font-size="9.30" fill="#e8e8e8" textLength="24.19" lengthAdjust="spacingAndGlyphs" style="white-space:pre">4.0000</text><path d="M1153 302.69999999999993 L1157 305.29999999999995 L1153 307.9 Z" fill="#3cc0c4"/><text x="1158.00" y="308.90" font-family='"Liberation Sans", sans-serif' font-weight="normal" font-size="9.30" fill="#e8e8e8" textLength="24.19" lengthAdjust="spacingAndGlyphs" style="white-space:pre">3.5000</text><path d="M1153 370.29999999999995 L1157 372.9 L1153 375.5 Z" fill="#3cc0c4"/><text x="1158.00" y="376.50" font-family='"Liberation Sans", sans-serif' font-weight="normal" font-size="9.30" fill="#e8e8e8" textLength="24.19" lengthAdjust="spacingAndGlyphs" style="white-space:pre">3.0000</text><path d="M1153 437.9 L1157 440.5 L1153 443.1 Z" fill="#3cc0c4"/><text x="1158.00" y="444.10" font-family='"Liberation Sans", sans-serif' font-weight="normal" font-size="9.30" fill="#e8e8e8" textLength="24.19" lengthAdjust="spacingAndGlyphs" style="white-space:pre">2.5000</text><rect x="1153" y="135.8" width="2.5" height="1" fill="#3cc0c4"/><rect x="1153" y="203.4" width="2.5" height="1" fill="#3cc0c4"/><rect x="1153" y="271.0" width="2.5" height="1" fill="#3cc0c4"/><rect x="1153" y="338.6" width="2.5" height="1" fill="#3cc0c4"/><rect x="1153" y="406.2" width="2.5" height="1" fill="#3cc0c4"/><rect x="1153" y="473.8" width="2.5" height="1" fill="#3cc0c4"/><rect x="32.9" y="500" width="1" height="3.5" fill="#c8c8c8"/><rect x="89.1" y="500" width="1" height="3.5" fill="#c8c8c8"/><rect x="143.1" y="500" width="1" height="3.5" fill="#c8c8c8"/><rect x="198.5" y="500" width="1" height="3.5" fill="#c8c8c8"/><rect x="254.3" y="500" width="1" height="3.5" fill="#c8c8c8"/><rect x="310.9" y="500" width="1" height="3.5" fill="#c8c8c8"/><rect x="363.8" y="500" width="1" height="3.5" fill="#c8c8c8"/><rect x="420.4" y="500" width="1" height="3.5" fill="#c8c8c8"/><rect x="475.8" y="500" width="1" height="3.5" fill="#c8c8c8"/><rect x="531.4" y="500" width="1" height="3.5" fill="#c8c8c8"/><rect x="588.0" y="500" width="1" height="3.5" fill="#c8c8c8"/><rect x="640.2" y="500" width="1" height="3.5" fill="#c8c8c8"/><rect x="685.7" y="500" width="1" height="3.5" fill="#c8c8c8"/><rect x="722.1" y="500" width="1" height="3.5" fill="#c8c8c8"/><rect x="757.2" y="500" width="1" height="3.5" fill="#c8c8c8"/><rect x="799.5" y="500" width="1" height="3.5" fill="#c8c8c8"/><rect x="833.7" y="500" width="1" height="3.5" fill="#c8c8c8"/><rect x="874.8" y="500" width="1" height="3.5" fill="#c8c8c8"/><rect x="914.5" y="500" width="1" height="3.5" fill="#c8c8c8"/><rect x="951.5" y="500" width="1" height="3.5" fill="#c8c8c8"/><rect x="993.7" y="500" width="1" height="3.5" fill="#c8c8c8"/><rect x="1029.8" y="500" width="1" height="3.5" fill="#c8c8c8"/><rect x="1068.9" y="500" width="1" height="3.5" fill="#c8c8c8"/><rect x="1107.3" y="500" width="1" height="3.5" fill="#c8c8c8"/><rect x="1146.4" y="500" width="1" height="3.5" fill="#c8c8c8"/><text x="61.5" y="509.5" font-family='"Liberation Sans", sans-serif' font-size="9.6" fill="#e4e4e4" text-anchor="middle" transform="translate(61.5 0) scale(0.9 1) translate(-61.5 0)">Jan</text><text x="116.6" y="509.5" font-family='"Liberation Sans", sans-serif' font-size="9.6" fill="#e4e4e4" text-anchor="middle" transform="translate(116.6 0) scale(0.9 1) translate(-116.6 0)">Feb</text><text x="171.3" y="509.5" font-family='"Liberation Sans", sans-serif' font-size="9.6" fill="#e4e4e4" text-anchor="middle" transform="translate(171.3 0) scale(0.9 1) translate(-171.3 0)">Mar</text><text x="226.9" y="509.5" font-family='"Liberation Sans", sans-serif' font-size="9.6" fill="#e4e4e4" text-anchor="middle" transform="translate(226.9 0) scale(0.9 1) translate(-226.9 0)">Apr</text><text x="283.1" y="509.5" font-family='"Liberation Sans", sans-serif' font-size="9.6" fill="#e4e4e4" text-anchor="middle" transform="translate(283.1 0) scale(0.9 1) translate(-283.1 0)">May</text><text x="337.9" y="509.5" font-family='"Liberation Sans", sans-serif' font-size="9.6" fill="#e4e4e4" text-anchor="middle" transform="translate(337.9 0) scale(0.9 1) translate(-337.9 0)">Jun</text><text x="392.6" y="509.5" font-family='"Liberation Sans", sans-serif' font-size="9.6" fill="#e4e4e4" text-anchor="middle" transform="translate(392.6 0) scale(0.9 1) translate(-392.6 0)">Jul</text><text x="448.6" y="509.5" font-family='"Liberation Sans", sans-serif' font-size="9.6" fill="#e4e4e4" text-anchor="middle" transform="translate(448.6 0) scale(0.9 1) translate(-448.6 0)">Aug</text><text x="504.1" y="509.5" font-family='"Liberation Sans", sans-serif' font-size="9.6" fill="#e4e4e4" text-anchor="middle" transform="translate(504.1 0) scale(0.9 1) translate(-504.1 0)">Sep</text><text x="560.2" y="509.5" font-family='"Liberation Sans", sans-serif' font-size="9.6" fill="#e4e4e4" text-anchor="middle" transform="translate(560.2 0) scale(0.9 1) translate(-560.2 0)">Oct</text><text x="614.6" y="509.5" font-family='"Liberation Sans", sans-serif' font-size="9.6" fill="#e4e4e4" text-anchor="middle" transform="translate(614.6 0) scale(0.9 1) translate(-614.6 0)">Nov</text><text x="663.5" y="509.5" font-family='"Liberation Sans", sans-serif' font-size="9.6" fill="#e4e4e4" text-anchor="middle" transform="translate(663.5 0) scale(0.9 1) translate(-663.5 0)">Dec</text><text x="704.4" y="509.5" font-family='"Liberation Sans", sans-serif' font-size="9.6" fill="#e4e4e4" text-anchor="middle" transform="translate(704.4 0) scale(0.9 1) translate(-704.4 0)">Jan</text><text x="740.2" y="509.5" font-family='"Liberation Sans", sans-serif' font-size="9.6" fill="#e4e4e4" text-anchor="middle" transform="translate(740.2 0) scale(0.9 1) translate(-740.2 0)">Feb</text><text x="778.9" y="509.5" font-family='"Liberation Sans", sans-serif' font-size="9.6" fill="#e4e4e4" text-anchor="middle" transform="translate(778.9 0) scale(0.9 1) translate(-778.9 0)">Mar</text><text x="817.1" y="509.5" font-family='"Liberation Sans", sans-serif' font-size="9.6" fill="#e4e4e4" text-anchor="middle" transform="translate(817.1 0) scale(0.9 1) translate(-817.1 0)">Apr</text><text x="854.8" y="509.5" font-family='"Liberation Sans", sans-serif' font-size="9.6" fill="#e4e4e4" text-anchor="middle" transform="translate(854.8 0) scale(0.9 1) translate(-854.8 0)">May</text><text x="895.1" y="509.5" font-family='"Liberation Sans", sans-serif' font-size="9.6" fill="#e4e4e4" text-anchor="middle" transform="translate(895.1 0) scale(0.9 1) translate(-895.1 0)">Jun</text><text x="933.5" y="509.5" font-family='"Liberation Sans", sans-serif' font-size="9.6" fill="#e4e4e4" text-anchor="middle" transform="translate(933.5 0) scale(0.9 1) translate(-933.5 0)">Jul</text><text x="973.1" y="509.5" font-family='"Liberation Sans", sans-serif' font-size="9.6" fill="#e4e4e4" text-anchor="middle" transform="translate(973.1 0) scale(0.9 1) translate(-973.1 0)">Aug</text><text x="1012.2" y="509.5" font-family='"Liberation Sans", sans-serif' font-size="9.6" fill="#e4e4e4" text-anchor="middle" transform="translate(1012.2 0) scale(0.9 1) translate(-1012.2 0)">Sep</text><text x="1049.8" y="509.5" font-family='"Liberation Sans", sans-serif' font-size="9.6" fill="#e4e4e4" text-anchor="middle" transform="translate(1049.8 0) scale(0.9 1) translate(-1049.8 0)">Oct</text><text x="1088.6" y="509.5" font-family='"Liberation Sans", sans-serif' font-size="9.6" fill="#e4e4e4" text-anchor="middle" transform="translate(1088.6 0) scale(0.9 1) translate(-1088.6 0)">Nov</text><text x="1127.3" y="509.5" font-family='"Liberation Sans", sans-serif' font-size="9.6" fill="#e4e4e4" text-anchor="middle" transform="translate(1127.3 0) scale(0.9 1) translate(-1127.3 0)">Dec</text><rect x="34.0" y="510.5" width="1" height="10.5" fill="#c8c8c8"/><rect x="685.7" y="510.5" width="1" height="10.5" fill="#c8c8c8"/><rect x="1146.4" y="510.5" width="1" height="10.5" fill="#c8c8c8"/><text x="351.50" y="519.00" font-family='"Liberation Sans", sans-serif' font-weight="normal" font-size="8.72" fill="#e4e4e4" textLength="17.00" lengthAdjust="spacingAndGlyphs" style="white-space:pre">2016</text><text x="907.50" y="519.00" font-family='"Liberation Sans", sans-serif' font-weight="normal" font-size="8.72" fill="#e4e4e4" textLength="17.00" lengthAdjust="spacingAndGlyphs" style="white-space:pre">2017</text><path d="M1 199 H28.5 L31.5 204.2 L28.5 209.5 H1 Z" fill="#f8f8f8"/><text x="4.00" y="208.00" font-family='"Liberation Sans", sans-serif' font-weight="normal" font-size="11.34" fill="#202020" textLength="22.49" lengthAdjust="spacingAndGlyphs" style="white-space:pre">2.4810</text><path d="M1 221 H28.5 L31.5 226 L28.5 231 H1 Z" fill="#22c43a"/><path d="M1 224.7 H28.5 L31.5 230 L28.5 235.2 H1 Z" fill="#e5129b"/><text x="3.50" y="234.00" font-family='"Liberation Sans", sans-serif' font-weight="normal" font-size="11.34" fill="#ffffff" textLength="22.99" lengthAdjust="spacingAndGlyphs" style="white-space:pre">2.3696</text><path d="M1153.4 184 L1156.5 179 H1184 V189.1 H1156.5 Z" fill="#3ccfd6"/><text x="1159.50" y="188.00" font-family='"Liberation Sans", sans-serif' font-weight="normal" font-size="11.34" fill="#104048" textLength="22.99" lengthAdjust="spacingAndGlyphs" style="white-space:pre">4.3967</text><circle cx="246" cy="138.5" r="2.3" fill="#4cd0d4"/><text x="226.50" y="136.00" font-family='"Liberation Sans", sans-serif' font-weight="normal" font-size="9.16" fill="#4cc8d0" textLength="37.49" lengthAdjust="spacingAndGlyphs" style="white-space:pre">Hi: 4.7351</text><circle cx="508" cy="292" r="2.3" fill="#4cd0d4"/><text x="486.00" y="301.50" font-family='"Liberation Sans", sans-serif' font-weight="normal" font-size="9.16" fill="#4cc8d0" textLength="42.99" lengthAdjust="spacingAndGlyphs" style="white-space:pre">Low: 3.5952</text><rect x="667" y="167" width="1" height="10" fill="#e8e8e8"/><circle cx="667.5" cy="167.5" r="2.3" fill="#f0f0f0"/><text x="647.00" y="165.00" font-family='"Liberation Sans", sans-serif' font-weight="normal" font-size="9.16" fill="#e0d8c8" textLength="38.99" lengthAdjust="spacingAndGlyphs" style="white-space:pre">Hi: 2.6394</text><rect x="373.2" y="465" width="1" height="9" fill="#e8e8e8"/><circle cx="373.7" cy="473.8" r="2.3" fill="#f0f0f0"/><text x="352.00" y="484.00" font-family='"Liberation Sans", sans-serif' font-weight="normal" font-size="9.16" fill="#e0d8c8" textLength="44.49" lengthAdjust="spacingAndGlyphs" style="white-space:pre">Low: 1.3180</text>
<rect x="506" y="109.3" width="166.90" height="12.60" fill="#050505" /><rect x="506" y="109.3" width="40.00" height="12.60" fill="#171717" /><rect x="547" y="109.3" width="50.00" height="12.60" fill="#171717" /><rect x="598" y="109.3" width="38.00" height="12.60" fill="#171717" /><rect x="637" y="109.3" width="35.90" height="12.60" fill="#171717" /><text x="522.00" y="118.00" font-family='"Liberation Sans", sans-serif' font-weight="normal" font-size="8.87" fill="#b8b8b8" textLength="19.64" lengthAdjust="spacingAndGlyphs" style="white-space:pre">Track</text><text x="561.40" y="118.00" font-family='"Liberation Sans", sans-serif' font-weight="normal" font-size="8.87" fill="#b8b8b8" textLength="31.09" lengthAdjust="spacingAndGlyphs" style="white-space:pre">Annotate</text><text x="612.20" y="118.00" font-family='"Liberation Sans", sans-serif' font-weight="normal" font-size="8.87" fill="#b8b8b8" textLength="18.20" lengthAdjust="spacingAndGlyphs" style="white-space:pre">News</text><text x="650.10" y="118.00" font-family='"Liberation Sans", sans-serif' font-weight="normal" font-size="8.87" fill="#b8b8b8" textLength="19.81" lengthAdjust="spacingAndGlyphs" style="white-space:pre">Zoom</text><path d="M513 113 v6 M510 116 h6" stroke="#5a5a5a" stroke-width="1.2"/><path d="M551.5 118.5 L556 114 M551 119 h5" stroke="#5a5a5a" stroke-width="1"/><rect x="602" y="113" width="5.00" height="5.00" fill="#5c5c5c" /><circle cx="643" cy="114.8" r="2.2" fill="none" stroke="#5a5a5a" stroke-width="1"/><path d="M644.7 116.6 L646.8 118.7" stroke="#5a5a5a" stroke-width="1.1"/>
</svg>
</body></html>
